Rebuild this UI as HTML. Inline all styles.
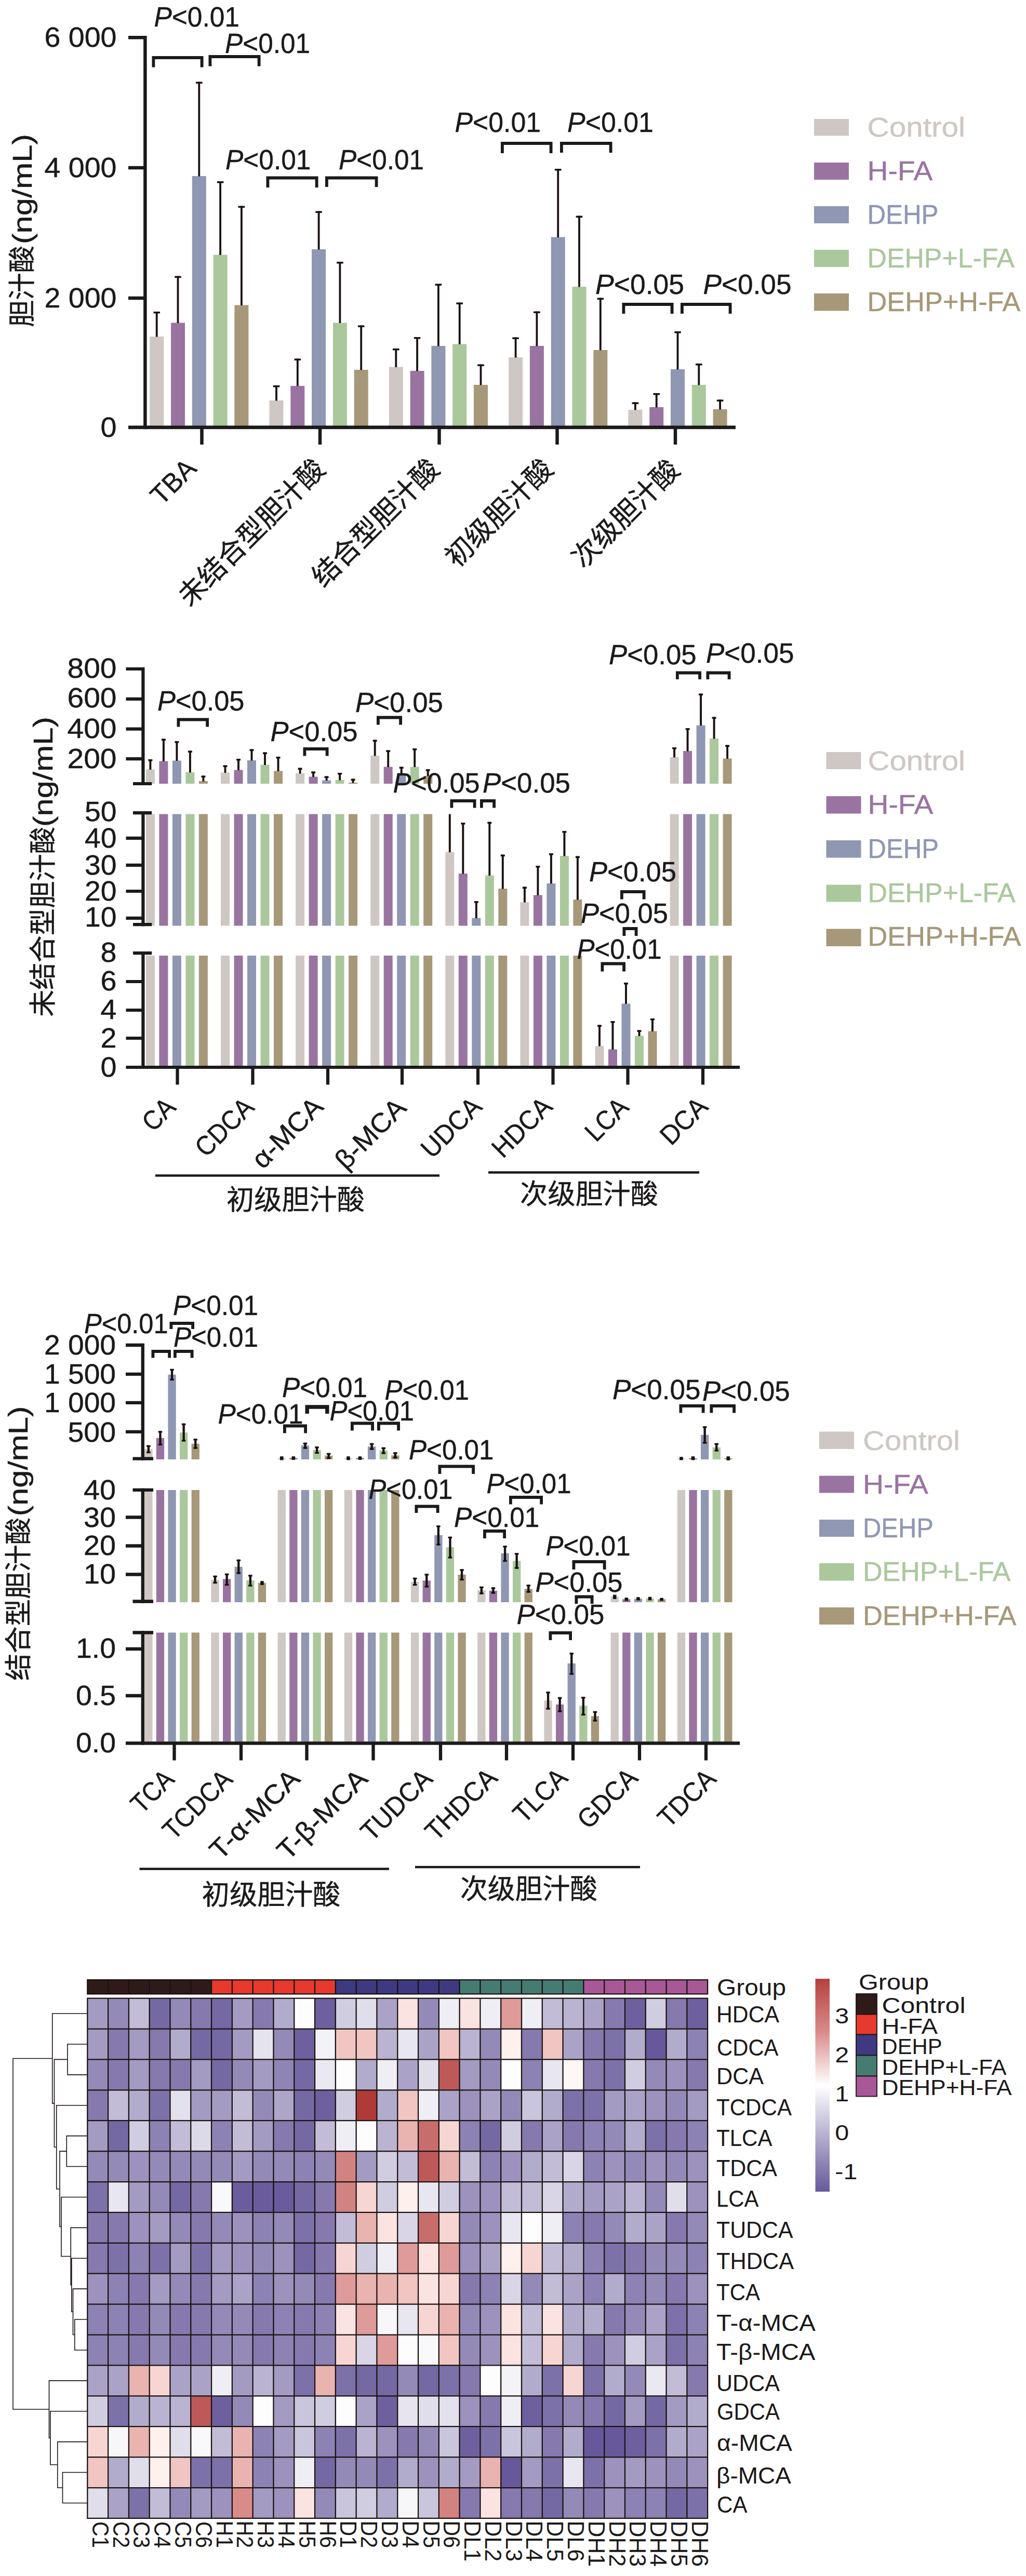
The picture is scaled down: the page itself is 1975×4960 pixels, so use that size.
<!DOCTYPE html>
<html lang="zh"><head><meta charset="utf-8"><title>胆汁酸</title>
<style>
html,body{margin:0;padding:0;background:#fff}
svg{display:block}
svg{fill:#1b1919}
text{font-family:'Liberation Sans', 'Noto Sans CJK SC', sans-serif;stroke-width:.45px}
text.h{stroke-width:0}
</style></head><body>
<svg width="1975" height="4960" viewBox="0 0 1975 4960">
<rect x="0" y="0" width="1975" height="4960" fill="#ffffff"/>
<rect x="288.2" y="648" width="27" height="172" fill="#cfc7c4"/>
<rect x="299.8" y="600" width="3.8" height="48.5" fill="#1a1210"/>
<rect x="295.4" y="600" width="12.6" height="3.5" fill="#1a1210"/>
<rect x="329" y="621.5" width="27" height="198.5" fill="#9a74a1"/>
<rect x="340.6" y="531.5" width="3.8" height="90.5" fill="#1a1210"/>
<rect x="336.2" y="531.5" width="12.6" height="3.5" fill="#1a1210"/>
<rect x="369.8" y="339" width="27" height="481" fill="#8f97b3"/>
<rect x="381.4" y="157.5" width="3.8" height="182" fill="#1a1210"/>
<rect x="377" y="157.5" width="12.6" height="3.5" fill="#1a1210"/>
<rect x="410.6" y="490.5" width="27" height="329.5" fill="#abc89d"/>
<rect x="422.2" y="349" width="3.8" height="142" fill="#1a1210"/>
<rect x="417.8" y="349" width="12.6" height="3.5" fill="#1a1210"/>
<rect x="451.4" y="587.5" width="27" height="232.5" fill="#a69879"/>
<rect x="463" y="396.5" width="3.8" height="191.5" fill="#1a1210"/>
<rect x="458.6" y="396.5" width="12.6" height="3.5" fill="#1a1210"/>
<rect x="518.5" y="771" width="27" height="49" fill="#cfc7c4"/>
<rect x="530.1" y="742" width="3.8" height="29.5" fill="#1a1210"/>
<rect x="525.7" y="742" width="12.6" height="3.5" fill="#1a1210"/>
<rect x="559.3" y="743" width="27" height="77" fill="#9a74a1"/>
<rect x="570.9" y="690.5" width="3.8" height="53" fill="#1a1210"/>
<rect x="566.5" y="690.5" width="12.6" height="3.5" fill="#1a1210"/>
<rect x="600.1" y="480" width="27" height="340" fill="#8f97b3"/>
<rect x="611.7" y="406.5" width="3.8" height="74" fill="#1a1210"/>
<rect x="607.3" y="406.5" width="12.6" height="3.5" fill="#1a1210"/>
<rect x="640.9" y="621.5" width="27" height="198.5" fill="#abc89d"/>
<rect x="652.5" y="504" width="3.8" height="118" fill="#1a1210"/>
<rect x="648.1" y="504" width="12.6" height="3.5" fill="#1a1210"/>
<rect x="681.7" y="712" width="27" height="108" fill="#a69879"/>
<rect x="693.3" y="626.5" width="3.8" height="86" fill="#1a1210"/>
<rect x="688.9" y="626.5" width="12.6" height="3.5" fill="#1a1210"/>
<rect x="748.8" y="706.5" width="27" height="113.5" fill="#cfc7c4"/>
<rect x="760.4" y="671" width="3.8" height="36" fill="#1a1210"/>
<rect x="756" y="671" width="12.6" height="3.5" fill="#1a1210"/>
<rect x="789.6" y="714" width="27" height="106" fill="#9a74a1"/>
<rect x="801.2" y="649" width="3.8" height="65.5" fill="#1a1210"/>
<rect x="796.8" y="649" width="12.6" height="3.5" fill="#1a1210"/>
<rect x="830.4" y="666" width="27" height="154" fill="#8f97b3"/>
<rect x="842" y="546.5" width="3.8" height="120" fill="#1a1210"/>
<rect x="837.6" y="546.5" width="12.6" height="3.5" fill="#1a1210"/>
<rect x="871.2" y="662.5" width="27" height="157.5" fill="#abc89d"/>
<rect x="882.8" y="582.5" width="3.8" height="80.5" fill="#1a1210"/>
<rect x="878.4" y="582.5" width="12.6" height="3.5" fill="#1a1210"/>
<rect x="912" y="741" width="27" height="79" fill="#a69879"/>
<rect x="923.6" y="701.5" width="3.8" height="40" fill="#1a1210"/>
<rect x="919.2" y="701.5" width="12.6" height="3.5" fill="#1a1210"/>
<rect x="979.1" y="688" width="27" height="132" fill="#cfc7c4"/>
<rect x="990.7" y="649.5" width="3.8" height="39" fill="#1a1210"/>
<rect x="986.3" y="649.5" width="12.6" height="3.5" fill="#1a1210"/>
<rect x="1019.9" y="666" width="27" height="154" fill="#9a74a1"/>
<rect x="1031.5" y="599.5" width="3.8" height="67" fill="#1a1210"/>
<rect x="1027.1" y="599.5" width="12.6" height="3.5" fill="#1a1210"/>
<rect x="1060.7" y="456.5" width="27" height="363.5" fill="#8f97b3"/>
<rect x="1072.3" y="325" width="3.8" height="132" fill="#1a1210"/>
<rect x="1067.9" y="325" width="12.6" height="3.5" fill="#1a1210"/>
<rect x="1101.5" y="552" width="27" height="268" fill="#abc89d"/>
<rect x="1113.1" y="415.5" width="3.8" height="137" fill="#1a1210"/>
<rect x="1108.7" y="415.5" width="12.6" height="3.5" fill="#1a1210"/>
<rect x="1142.3" y="674" width="27" height="146" fill="#a69879"/>
<rect x="1153.9" y="573.5" width="3.8" height="101" fill="#1a1210"/>
<rect x="1149.5" y="573.5" width="12.6" height="3.5" fill="#1a1210"/>
<rect x="1209.4" y="789" width="27" height="31" fill="#cfc7c4"/>
<rect x="1221" y="774.5" width="3.8" height="15" fill="#1a1210"/>
<rect x="1216.6" y="774.5" width="12.6" height="3.5" fill="#1a1210"/>
<rect x="1250.2" y="784" width="27" height="36" fill="#9a74a1"/>
<rect x="1261.8" y="757" width="3.8" height="27.5" fill="#1a1210"/>
<rect x="1257.4" y="757" width="12.6" height="3.5" fill="#1a1210"/>
<rect x="1291" y="711" width="27" height="109" fill="#8f97b3"/>
<rect x="1302.6" y="638" width="3.8" height="73.5" fill="#1a1210"/>
<rect x="1298.2" y="638" width="12.6" height="3.5" fill="#1a1210"/>
<rect x="1331.8" y="741" width="27" height="79" fill="#abc89d"/>
<rect x="1343.4" y="700" width="3.8" height="41.5" fill="#1a1210"/>
<rect x="1339" y="700" width="12.6" height="3.5" fill="#1a1210"/>
<rect x="1372.6" y="788" width="27" height="32" fill="#a69879"/>
<rect x="1384.2" y="769.5" width="3.8" height="19" fill="#1a1210"/>
<rect x="1379.8" y="769.5" width="12.6" height="3.5" fill="#1a1210"/>
<path d="M279.4 69L279.4 826.3" stroke="#1b1919" stroke-width="6.5" fill="none"/>
<path d="M247 72.2L279.4 72.2" stroke="#1b1919" stroke-width="6.5" fill="none"/>
<path d="M247 323.1L279.4 323.1" stroke="#1b1919" stroke-width="6.5" fill="none"/>
<path d="M247 574L279.4 574" stroke="#1b1919" stroke-width="6.5" fill="none"/>
<path d="M247 822.9L1416 822.9" stroke="#1b1919" stroke-width="6.8" fill="none"/>
<path d="M388.5 822.9L388.5 856" stroke="#1b1919" stroke-width="6.5" fill="none"/>
<path d="M616 822.9L616 856" stroke="#1b1919" stroke-width="6.5" fill="none"/>
<path d="M845.5 822.9L845.5 856" stroke="#1b1919" stroke-width="6.5" fill="none"/>
<path d="M1072.5 822.9L1072.5 856" stroke="#1b1919" stroke-width="6.5" fill="none"/>
<path d="M1300 822.9L1300 856" stroke="#1b1919" stroke-width="6.5" fill="none"/>
<text x="224.5" y="90.2" font-size="54.5" text-anchor="end" textLength="139" lengthAdjust="spacingAndGlyphs" stroke="#1b1919">6 000</text>
<text x="224.5" y="341.1" font-size="54.5" text-anchor="end" textLength="139" lengthAdjust="spacingAndGlyphs" stroke="#1b1919">4 000</text>
<text x="224.5" y="592" font-size="54.5" text-anchor="end" textLength="139" lengthAdjust="spacingAndGlyphs" stroke="#1b1919">2 000</text>
<text x="224.5" y="841.1" font-size="54.5" text-anchor="end" textLength="31" lengthAdjust="spacingAndGlyphs" stroke="#1b1919">0</text>
<text x="296.5" y="50.5" font-size="54.5" textLength="164.5" lengthAdjust="spacingAndGlyphs" stroke="#1b1919"><tspan font-style="italic">P</tspan>&lt;0.01</text>
<text x="433" y="102" font-size="54.5" textLength="164" lengthAdjust="spacingAndGlyphs" stroke="#1b1919"><tspan font-style="italic">P</tspan>&lt;0.01</text>
<text x="434" y="325.5" font-size="54.5" textLength="164.5" lengthAdjust="spacingAndGlyphs" stroke="#1b1919"><tspan font-style="italic">P</tspan>&lt;0.01</text>
<text x="652" y="325.5" font-size="54.5" textLength="164" lengthAdjust="spacingAndGlyphs" stroke="#1b1919"><tspan font-style="italic">P</tspan>&lt;0.01</text>
<text x="875.5" y="253.5" font-size="54.5" textLength="165.5" lengthAdjust="spacingAndGlyphs" stroke="#1b1919"><tspan font-style="italic">P</tspan>&lt;0.01</text>
<text x="1092" y="253.5" font-size="54.5" textLength="166" lengthAdjust="spacingAndGlyphs" stroke="#1b1919"><tspan font-style="italic">P</tspan>&lt;0.01</text>
<text x="1146" y="565.5" font-size="54.5" textLength="171" lengthAdjust="spacingAndGlyphs" stroke="#1b1919"><tspan font-style="italic">P</tspan>&lt;0.05</text>
<text x="1353.5" y="565.5" font-size="54.5" textLength="170" lengthAdjust="spacingAndGlyphs" stroke="#1b1919"><tspan font-style="italic">P</tspan>&lt;0.05</text>
<path d="M295.4 129.5V111H388.6V129.5" stroke="#1b1919" stroke-width="5.8" fill="none" stroke-linejoin="miter"/>
<path d="M404.4 127.5V109H498.6V127.5" stroke="#1b1919" stroke-width="5.8" fill="none" stroke-linejoin="miter"/>
<path d="M515.4 361V342.5H609.6V361" stroke="#1b1919" stroke-width="5.8" fill="none" stroke-linejoin="miter"/>
<path d="M628.9 360V342.5H724.6V360" stroke="#1b1919" stroke-width="5.8" fill="none" stroke-linejoin="miter"/>
<path d="M966.9 295V276H1060.6V295" stroke="#1b1919" stroke-width="5.8" fill="none" stroke-linejoin="miter"/>
<path d="M1080.9 294V276H1175.6V294" stroke="#1b1919" stroke-width="5.8" fill="none" stroke-linejoin="miter"/>
<path d="M1200.4 604V586H1293.6V604" stroke="#1b1919" stroke-width="5.8" fill="none" stroke-linejoin="miter"/>
<path d="M1312.9 604V586H1405.6V604" stroke="#1b1919" stroke-width="5.8" fill="none" stroke-linejoin="miter"/>
<text x="381" y="905" font-size="52" text-anchor="end" textLength="99" lengthAdjust="spacingAndGlyphs" transform="rotate(-45 381 905)" stroke="#1b1919">TBA</text>
<text x="629" y="906.5" font-size="53.3" text-anchor="end" textLength="373.1" lengthAdjust="spacingAndGlyphs" transform="rotate(-45 629 906.5)" stroke="#1b1919">未结合型胆汁酸</text>
<text x="849" y="906.5" font-size="53.3" text-anchor="end" textLength="319.8" lengthAdjust="spacingAndGlyphs" transform="rotate(-45 849 906.5)" stroke="#1b1919">结合型胆汁酸</text>
<text x="1068" y="906.5" font-size="53.3" text-anchor="end" textLength="266.5" lengthAdjust="spacingAndGlyphs" transform="rotate(-45 1068 906.5)" stroke="#1b1919">初级胆汁酸</text>
<text x="1311.5" y="908" font-size="53.3" text-anchor="end" textLength="266.5" lengthAdjust="spacingAndGlyphs" transform="rotate(-45 1311.5 908)" stroke="#1b1919">次级胆汁酸</text>
<text x="60.5" y="630" font-size="52.3" textLength="157" lengthAdjust="spacingAndGlyphs" transform="rotate(-90 60.5 630)" stroke="#1b1919">胆汁酸</text>
<text x="60.5" y="470" font-size="52" textLength="212" lengthAdjust="spacingAndGlyphs" transform="rotate(-90 60.5 470)" stroke="#1b1919">(ng/mL)</text>
<rect x="1567" y="229" width="67" height="32.5" fill="#cfc7c4"/>
<text x="1669.5" y="263.2" font-size="52.4" textLength="188.5" lengthAdjust="spacingAndGlyphs" fill="#cfc7c4" stroke="#cfc7c4">Control</text>
<rect x="1567" y="313" width="67" height="33" fill="#9a74a1"/>
<text x="1669.5" y="346.7" font-size="52.4" textLength="126" lengthAdjust="spacingAndGlyphs" fill="#9a74a1" stroke="#9a74a1">H-FA</text>
<rect x="1567" y="397" width="67" height="33" fill="#8f97b3"/>
<text x="1669.5" y="430.7" font-size="52.4" textLength="137" lengthAdjust="spacingAndGlyphs" fill="#8f97b3" stroke="#8f97b3">DEHP</text>
<rect x="1567" y="481" width="67" height="33" fill="#abc89d"/>
<text x="1669.5" y="514.7" font-size="52.4" textLength="283.5" lengthAdjust="spacingAndGlyphs" fill="#abc89d" stroke="#abc89d">DEHP+L-FA</text>
<rect x="1567" y="565" width="67" height="33.5" fill="#a69879"/>
<text x="1669.5" y="599.2" font-size="52.4" textLength="295" lengthAdjust="spacingAndGlyphs" fill="#a69879" stroke="#a69879">DEHP+H-FA</text>
<rect x="280.9" y="1481.5" width="17" height="27.5" fill="#cfc7c4"/>
<rect x="287.45" y="1462" width="3.9" height="20" fill="#1a1210"/>
<rect x="285.4" y="1462" width="8" height="3.5" fill="#1a1210"/>
<rect x="306.4" y="1465.5" width="17" height="43.5" fill="#9a74a1"/>
<rect x="312.95" y="1422.5" width="3.9" height="43.5" fill="#1a1210"/>
<rect x="310.9" y="1422.5" width="8" height="3.5" fill="#1a1210"/>
<rect x="331.9" y="1464.5" width="17" height="44.5" fill="#8f97b3"/>
<rect x="338.45" y="1427" width="3.9" height="38" fill="#1a1210"/>
<rect x="336.4" y="1427" width="8" height="3.5" fill="#1a1210"/>
<rect x="357.4" y="1487" width="17" height="22" fill="#abc89d"/>
<rect x="363.95" y="1445.5" width="3.9" height="42" fill="#1a1210"/>
<rect x="361.9" y="1445.5" width="8" height="3.5" fill="#1a1210"/>
<rect x="382.9" y="1504" width="17" height="5" fill="#a69879"/>
<rect x="389.45" y="1493.5" width="3.9" height="11" fill="#1a1210"/>
<rect x="387.4" y="1493.5" width="8" height="3.5" fill="#1a1210"/>
<rect x="425" y="1487.5" width="17" height="21.5" fill="#cfc7c4"/>
<rect x="431.55" y="1473.5" width="3.9" height="14.5" fill="#1a1210"/>
<rect x="429.5" y="1473.5" width="8" height="3.5" fill="#1a1210"/>
<rect x="450.5" y="1482.5" width="17" height="26.5" fill="#9a74a1"/>
<rect x="457.05" y="1461" width="3.9" height="22" fill="#1a1210"/>
<rect x="455" y="1461" width="8" height="3.5" fill="#1a1210"/>
<rect x="476" y="1464" width="17" height="45" fill="#8f97b3"/>
<rect x="482.55" y="1442.5" width="3.9" height="22" fill="#1a1210"/>
<rect x="480.5" y="1442.5" width="8" height="3.5" fill="#1a1210"/>
<rect x="501.5" y="1472.5" width="17" height="36.5" fill="#abc89d"/>
<rect x="508.05" y="1448.5" width="3.9" height="24.5" fill="#1a1210"/>
<rect x="506" y="1448.5" width="8" height="3.5" fill="#1a1210"/>
<rect x="527" y="1484.5" width="17" height="24.5" fill="#a69879"/>
<rect x="533.55" y="1457" width="3.9" height="28" fill="#1a1210"/>
<rect x="531.5" y="1457" width="8" height="3.5" fill="#1a1210"/>
<rect x="569.1" y="1489" width="17" height="20" fill="#cfc7c4"/>
<rect x="575.65" y="1478.5" width="3.9" height="11" fill="#1a1210"/>
<rect x="573.6" y="1478.5" width="8" height="3.5" fill="#1a1210"/>
<rect x="594.6" y="1495.5" width="17" height="13.5" fill="#9a74a1"/>
<rect x="601.15" y="1485.5" width="3.9" height="10.5" fill="#1a1210"/>
<rect x="599.1" y="1485.5" width="8" height="3.5" fill="#1a1210"/>
<rect x="620.1" y="1502.5" width="17" height="6.5" fill="#8f97b3"/>
<rect x="626.65" y="1494.5" width="3.9" height="8.5" fill="#1a1210"/>
<rect x="624.6" y="1494.5" width="8" height="3.5" fill="#1a1210"/>
<rect x="645.6" y="1502" width="17" height="7" fill="#abc89d"/>
<rect x="652.15" y="1488" width="3.9" height="14.5" fill="#1a1210"/>
<rect x="650.1" y="1488" width="8" height="3.5" fill="#1a1210"/>
<rect x="671.1" y="1507" width="17" height="2" fill="#a69879"/>
<rect x="677.65" y="1499.5" width="3.9" height="8" fill="#1a1210"/>
<rect x="675.6" y="1499.5" width="8" height="3.5" fill="#1a1210"/>
<rect x="713.2" y="1455" width="17" height="54" fill="#cfc7c4"/>
<rect x="719.75" y="1424.5" width="3.9" height="31" fill="#1a1210"/>
<rect x="717.7" y="1424.5" width="8" height="3.5" fill="#1a1210"/>
<rect x="738.7" y="1476.5" width="17" height="32.5" fill="#9a74a1"/>
<rect x="745.25" y="1444.5" width="3.9" height="32.5" fill="#1a1210"/>
<rect x="743.2" y="1444.5" width="8" height="3.5" fill="#1a1210"/>
<rect x="764.2" y="1491" width="17" height="18" fill="#8f97b3"/>
<rect x="770.75" y="1476.5" width="3.9" height="15" fill="#1a1210"/>
<rect x="768.7" y="1476.5" width="8" height="3.5" fill="#1a1210"/>
<rect x="789.7" y="1476.5" width="17" height="32.5" fill="#abc89d"/>
<rect x="796.25" y="1441" width="3.9" height="36" fill="#1a1210"/>
<rect x="794.2" y="1441" width="8" height="3.5" fill="#1a1210"/>
<rect x="815.2" y="1494" width="17" height="15" fill="#a69879"/>
<rect x="821.75" y="1481" width="3.9" height="13.5" fill="#1a1210"/>
<rect x="819.7" y="1481" width="8" height="3.5" fill="#1a1210"/>
<rect x="1289.6" y="1458" width="17" height="51" fill="#cfc7c4"/>
<rect x="1296.15" y="1439" width="3.9" height="19.5" fill="#1a1210"/>
<rect x="1294.1" y="1439" width="8" height="3.5" fill="#1a1210"/>
<rect x="1315.1" y="1446" width="17" height="63" fill="#9a74a1"/>
<rect x="1321.65" y="1402" width="3.9" height="44.5" fill="#1a1210"/>
<rect x="1319.6" y="1402" width="8" height="3.5" fill="#1a1210"/>
<rect x="1340.6" y="1396.5" width="17" height="112.5" fill="#8f97b3"/>
<rect x="1347.15" y="1335.5" width="3.9" height="61.5" fill="#1a1210"/>
<rect x="1345.1" y="1335.5" width="8" height="3.5" fill="#1a1210"/>
<rect x="1366.1" y="1422" width="17" height="87" fill="#abc89d"/>
<rect x="1372.65" y="1380.5" width="3.9" height="42" fill="#1a1210"/>
<rect x="1370.6" y="1380.5" width="8" height="3.5" fill="#1a1210"/>
<rect x="1391.6" y="1460.5" width="17" height="48.5" fill="#a69879"/>
<rect x="1398.15" y="1434.5" width="3.9" height="26.5" fill="#1a1210"/>
<rect x="1396.1" y="1434.5" width="8" height="3.5" fill="#1a1210"/>
<rect x="280.9" y="1567.5" width="17" height="215" fill="#cfc7c4"/>
<rect x="306.4" y="1567.5" width="17" height="215" fill="#9a74a1"/>
<rect x="331.9" y="1567.5" width="17" height="215" fill="#8f97b3"/>
<rect x="357.4" y="1567.5" width="17" height="215" fill="#abc89d"/>
<rect x="382.9" y="1567.5" width="17" height="215" fill="#a69879"/>
<rect x="425" y="1567.5" width="17" height="215" fill="#cfc7c4"/>
<rect x="450.5" y="1567.5" width="17" height="215" fill="#9a74a1"/>
<rect x="476" y="1567.5" width="17" height="215" fill="#8f97b3"/>
<rect x="501.5" y="1567.5" width="17" height="215" fill="#abc89d"/>
<rect x="527" y="1567.5" width="17" height="215" fill="#a69879"/>
<rect x="569.1" y="1567.5" width="17" height="215" fill="#cfc7c4"/>
<rect x="594.6" y="1567.5" width="17" height="215" fill="#9a74a1"/>
<rect x="620.1" y="1567.5" width="17" height="215" fill="#8f97b3"/>
<rect x="645.6" y="1567.5" width="17" height="215" fill="#abc89d"/>
<rect x="671.1" y="1567.5" width="17" height="215" fill="#a69879"/>
<rect x="713.2" y="1567.5" width="17" height="215" fill="#cfc7c4"/>
<rect x="738.7" y="1567.5" width="17" height="215" fill="#9a74a1"/>
<rect x="764.2" y="1567.5" width="17" height="215" fill="#8f97b3"/>
<rect x="789.7" y="1567.5" width="17" height="215" fill="#abc89d"/>
<rect x="815.2" y="1567.5" width="17" height="215" fill="#a69879"/>
<rect x="1289.6" y="1567.5" width="17" height="215" fill="#cfc7c4"/>
<rect x="1315.1" y="1567.5" width="17" height="215" fill="#9a74a1"/>
<rect x="1340.6" y="1567.5" width="17" height="215" fill="#8f97b3"/>
<rect x="1366.1" y="1567.5" width="17" height="215" fill="#abc89d"/>
<rect x="1391.6" y="1567.5" width="17" height="215" fill="#a69879"/>
<rect x="857.3" y="1640.5" width="17" height="142" fill="#cfc7c4"/>
<rect x="863.85" y="1567.5" width="3.9" height="73.5" fill="#1a1210"/>
<rect x="882.8" y="1682" width="17" height="100.5" fill="#9a74a1"/>
<rect x="889.35" y="1584" width="3.9" height="98.5" fill="#1a1210"/>
<rect x="887.3" y="1584" width="8" height="3.5" fill="#1a1210"/>
<rect x="908.3" y="1767.5" width="17" height="15" fill="#8f97b3"/>
<rect x="914.85" y="1735" width="3.9" height="33" fill="#1a1210"/>
<rect x="912.8" y="1735" width="8" height="3.5" fill="#1a1210"/>
<rect x="933.8" y="1685.5" width="17" height="97" fill="#abc89d"/>
<rect x="940.35" y="1582.5" width="3.9" height="103.5" fill="#1a1210"/>
<rect x="938.3" y="1582.5" width="8" height="3.5" fill="#1a1210"/>
<rect x="959.3" y="1711" width="17" height="71.5" fill="#a69879"/>
<rect x="965.85" y="1645.5" width="3.9" height="66" fill="#1a1210"/>
<rect x="963.8" y="1645.5" width="8" height="3.5" fill="#1a1210"/>
<rect x="1001.4" y="1737" width="17" height="45.5" fill="#cfc7c4"/>
<rect x="1007.95" y="1707.5" width="3.9" height="30" fill="#1a1210"/>
<rect x="1005.9" y="1707.5" width="8" height="3.5" fill="#1a1210"/>
<rect x="1026.9" y="1723.5" width="17" height="59" fill="#9a74a1"/>
<rect x="1033.45" y="1667" width="3.9" height="57" fill="#1a1210"/>
<rect x="1031.4" y="1667" width="8" height="3.5" fill="#1a1210"/>
<rect x="1052.4" y="1701" width="17" height="81.5" fill="#8f97b3"/>
<rect x="1058.95" y="1643" width="3.9" height="58.5" fill="#1a1210"/>
<rect x="1056.9" y="1643" width="8" height="3.5" fill="#1a1210"/>
<rect x="1077.9" y="1648" width="17" height="134.5" fill="#abc89d"/>
<rect x="1084.45" y="1600" width="3.9" height="48.5" fill="#1a1210"/>
<rect x="1082.4" y="1600" width="8" height="3.5" fill="#1a1210"/>
<rect x="1103.4" y="1732" width="17" height="50.5" fill="#a69879"/>
<rect x="1109.95" y="1648.5" width="3.9" height="84" fill="#1a1210"/>
<rect x="1107.9" y="1648.5" width="8" height="3.5" fill="#1a1210"/>
<rect x="280.9" y="1840" width="17" height="212" fill="#cfc7c4"/>
<rect x="306.4" y="1840" width="17" height="212" fill="#9a74a1"/>
<rect x="331.9" y="1840" width="17" height="212" fill="#8f97b3"/>
<rect x="357.4" y="1840" width="17" height="212" fill="#abc89d"/>
<rect x="382.9" y="1840" width="17" height="212" fill="#a69879"/>
<rect x="425" y="1840" width="17" height="212" fill="#cfc7c4"/>
<rect x="450.5" y="1840" width="17" height="212" fill="#9a74a1"/>
<rect x="476" y="1840" width="17" height="212" fill="#8f97b3"/>
<rect x="501.5" y="1840" width="17" height="212" fill="#abc89d"/>
<rect x="527" y="1840" width="17" height="212" fill="#a69879"/>
<rect x="569.1" y="1840" width="17" height="212" fill="#cfc7c4"/>
<rect x="594.6" y="1840" width="17" height="212" fill="#9a74a1"/>
<rect x="620.1" y="1840" width="17" height="212" fill="#8f97b3"/>
<rect x="645.6" y="1840" width="17" height="212" fill="#abc89d"/>
<rect x="671.1" y="1840" width="17" height="212" fill="#a69879"/>
<rect x="713.2" y="1840" width="17" height="212" fill="#cfc7c4"/>
<rect x="738.7" y="1840" width="17" height="212" fill="#9a74a1"/>
<rect x="764.2" y="1840" width="17" height="212" fill="#8f97b3"/>
<rect x="789.7" y="1840" width="17" height="212" fill="#abc89d"/>
<rect x="815.2" y="1840" width="17" height="212" fill="#a69879"/>
<rect x="857.3" y="1840" width="17" height="212" fill="#cfc7c4"/>
<rect x="882.8" y="1840" width="17" height="212" fill="#9a74a1"/>
<rect x="908.3" y="1840" width="17" height="212" fill="#8f97b3"/>
<rect x="933.8" y="1840" width="17" height="212" fill="#abc89d"/>
<rect x="959.3" y="1840" width="17" height="212" fill="#a69879"/>
<rect x="1001.4" y="1840" width="17" height="212" fill="#cfc7c4"/>
<rect x="1026.9" y="1840" width="17" height="212" fill="#9a74a1"/>
<rect x="1052.4" y="1840" width="17" height="212" fill="#8f97b3"/>
<rect x="1077.9" y="1840" width="17" height="212" fill="#abc89d"/>
<rect x="1103.4" y="1840" width="17" height="212" fill="#a69879"/>
<rect x="1289.6" y="1840" width="17" height="212" fill="#cfc7c4"/>
<rect x="1315.1" y="1840" width="17" height="212" fill="#9a74a1"/>
<rect x="1340.6" y="1840" width="17" height="212" fill="#8f97b3"/>
<rect x="1366.1" y="1840" width="17" height="212" fill="#abc89d"/>
<rect x="1391.6" y="1840" width="17" height="212" fill="#a69879"/>
<rect x="1145.5" y="2014" width="17" height="38" fill="#cfc7c4"/>
<rect x="1152.05" y="1973.5" width="3.9" height="41" fill="#1a1210"/>
<rect x="1150" y="1973.5" width="8" height="3.5" fill="#1a1210"/>
<rect x="1171" y="2020.5" width="17" height="31.5" fill="#9a74a1"/>
<rect x="1177.55" y="1966" width="3.9" height="55" fill="#1a1210"/>
<rect x="1175.5" y="1966" width="8" height="3.5" fill="#1a1210"/>
<rect x="1196.5" y="1932.5" width="17" height="119.5" fill="#8f97b3"/>
<rect x="1203.05" y="1892" width="3.9" height="41" fill="#1a1210"/>
<rect x="1201" y="1892" width="8" height="3.5" fill="#1a1210"/>
<rect x="1222" y="1994.5" width="17" height="57.5" fill="#abc89d"/>
<rect x="1228.55" y="1983.5" width="3.9" height="11.5" fill="#1a1210"/>
<rect x="1226.5" y="1983.5" width="8" height="3.5" fill="#1a1210"/>
<rect x="1247.5" y="1985.5" width="17" height="66.5" fill="#a69879"/>
<rect x="1254.05" y="1961" width="3.9" height="25" fill="#1a1210"/>
<rect x="1252" y="1961" width="8" height="3.5" fill="#1a1210"/>
<path d="M275.4 1284.9L275.4 1512.1" stroke="#1b1919" stroke-width="6.2" fill="none"/>
<path d="M242.5 1288L275.4 1288" stroke="#1b1919" stroke-width="6.2" fill="none"/>
<path d="M242.5 1345.8L275.4 1345.8" stroke="#1b1919" stroke-width="6.2" fill="none"/>
<path d="M242.5 1403.6L275.4 1403.6" stroke="#1b1919" stroke-width="6.2" fill="none"/>
<path d="M242.5 1461.2L275.4 1461.2" stroke="#1b1919" stroke-width="6.2" fill="none"/>
<path d="M256 1509L292.2 1509" stroke="#1b1919" stroke-width="6.2" fill="none"/>
<path d="M275.4 1562L275.4 1783.2" stroke="#1b1919" stroke-width="6.2" fill="none"/>
<path d="M256 1565.1L292.2 1565.1" stroke="#1b1919" stroke-width="6.2" fill="none"/>
<path d="M242.5 1613.8L275.4 1613.8" stroke="#1b1919" stroke-width="6.2" fill="none"/>
<path d="M242.5 1665.9L275.4 1665.9" stroke="#1b1919" stroke-width="6.2" fill="none"/>
<path d="M242.5 1716L275.4 1716" stroke="#1b1919" stroke-width="6.2" fill="none"/>
<path d="M242.5 1767.8L275.4 1767.8" stroke="#1b1919" stroke-width="6.2" fill="none"/>
<path d="M256 1780.1L292.2 1780.1" stroke="#1b1919" stroke-width="6.2" fill="none"/>
<path d="M275.4 1832.1L275.4 2058.1" stroke="#1b1919" stroke-width="6.2" fill="none"/>
<path d="M256 1835.2L292.2 1835.2" stroke="#1b1919" stroke-width="6.2" fill="none"/>
<path d="M242.5 1890L275.4 1890" stroke="#1b1919" stroke-width="6.2" fill="none"/>
<path d="M242.5 1945L275.4 1945" stroke="#1b1919" stroke-width="6.2" fill="none"/>
<path d="M242.5 1999L275.4 1999" stroke="#1b1919" stroke-width="6.2" fill="none"/>
<path d="M242.5 2055L1424 2055" stroke="#1b1919" stroke-width="6.2" fill="none"/>
<path d="M341.5 2055L341.5 2088.5" stroke="#1b1919" stroke-width="6.2" fill="none"/>
<path d="M486.5 2055L486.5 2088.5" stroke="#1b1919" stroke-width="6.2" fill="none"/>
<path d="M631 2055L631 2088.5" stroke="#1b1919" stroke-width="6.2" fill="none"/>
<path d="M774 2055L774 2088.5" stroke="#1b1919" stroke-width="6.2" fill="none"/>
<path d="M920 2055L920 2088.5" stroke="#1b1919" stroke-width="6.2" fill="none"/>
<path d="M1064.5 2055L1064.5 2088.5" stroke="#1b1919" stroke-width="6.2" fill="none"/>
<path d="M1208.5 2055L1208.5 2088.5" stroke="#1b1919" stroke-width="6.2" fill="none"/>
<path d="M1353 2055L1353 2088.5" stroke="#1b1919" stroke-width="6.2" fill="none"/>
<text x="224.5" y="1304.5" font-size="54" text-anchor="end" textLength="95" lengthAdjust="spacingAndGlyphs" stroke="#1b1919">800</text>
<text x="224.5" y="1362.1" font-size="54" text-anchor="end" textLength="95" lengthAdjust="spacingAndGlyphs" stroke="#1b1919">600</text>
<text x="224.5" y="1420.6" font-size="54" text-anchor="end" textLength="95" lengthAdjust="spacingAndGlyphs" stroke="#1b1919">400</text>
<text x="224.5" y="1479.1" font-size="54" text-anchor="end" textLength="95" lengthAdjust="spacingAndGlyphs" stroke="#1b1919">200</text>
<text x="224.5" y="1581.4" font-size="54" text-anchor="end" textLength="61.5" lengthAdjust="spacingAndGlyphs" stroke="#1b1919">50</text>
<text x="224.5" y="1631.5" font-size="54" text-anchor="end" textLength="61.5" lengthAdjust="spacingAndGlyphs" stroke="#1b1919">40</text>
<text x="224.5" y="1683.6" font-size="54" text-anchor="end" textLength="61.5" lengthAdjust="spacingAndGlyphs" stroke="#1b1919">30</text>
<text x="224.5" y="1733.9" font-size="54" text-anchor="end" textLength="61.5" lengthAdjust="spacingAndGlyphs" stroke="#1b1919">20</text>
<text x="224.5" y="1784.4" font-size="54" text-anchor="end" textLength="61.5" lengthAdjust="spacingAndGlyphs" stroke="#1b1919">10</text>
<text x="224.5" y="1851.8" font-size="54" text-anchor="end" textLength="31" lengthAdjust="spacingAndGlyphs" stroke="#1b1919">8</text>
<text x="224.5" y="1906.8" font-size="54" text-anchor="end" textLength="31" lengthAdjust="spacingAndGlyphs" stroke="#1b1919">6</text>
<text x="224.5" y="1962" font-size="54" text-anchor="end" textLength="31" lengthAdjust="spacingAndGlyphs" stroke="#1b1919">4</text>
<text x="224.5" y="2017" font-size="54" text-anchor="end" textLength="31" lengthAdjust="spacingAndGlyphs" stroke="#1b1919">2</text>
<text x="224.5" y="2073" font-size="54" text-anchor="end" textLength="31" lengthAdjust="spacingAndGlyphs" stroke="#1b1919">0</text>
<text x="303" y="1368" font-size="54.5" textLength="167.5" lengthAdjust="spacingAndGlyphs" stroke="#1b1919"><tspan font-style="italic">P</tspan>&lt;0.05</text>
<text x="520.5" y="1427" font-size="54.5" textLength="168" lengthAdjust="spacingAndGlyphs" stroke="#1b1919"><tspan font-style="italic">P</tspan>&lt;0.05</text>
<text x="684" y="1370.5" font-size="54.5" textLength="169" lengthAdjust="spacingAndGlyphs" stroke="#1b1919"><tspan font-style="italic">P</tspan>&lt;0.05</text>
<text x="756.5" y="1525.5" font-size="54.5" textLength="167" lengthAdjust="spacingAndGlyphs" stroke="#1b1919"><tspan font-style="italic">P</tspan>&lt;0.05</text>
<text x="929" y="1525.5" font-size="54.5" textLength="169" lengthAdjust="spacingAndGlyphs" stroke="#1b1919"><tspan font-style="italic">P</tspan>&lt;0.05</text>
<text x="1172" y="1278.5" font-size="54.5" textLength="168.5" lengthAdjust="spacingAndGlyphs" stroke="#1b1919"><tspan font-style="italic">P</tspan>&lt;0.05</text>
<text x="1359" y="1275.5" font-size="54.5" textLength="169.5" lengthAdjust="spacingAndGlyphs" stroke="#1b1919"><tspan font-style="italic">P</tspan>&lt;0.05</text>
<text x="1134" y="1696.5" font-size="54.5" textLength="168" lengthAdjust="spacingAndGlyphs" stroke="#1b1919"><tspan font-style="italic">P</tspan>&lt;0.05</text>
<text x="1118" y="1777" font-size="54.5" textLength="168" lengthAdjust="spacingAndGlyphs" stroke="#1b1919"><tspan font-style="italic">P</tspan>&lt;0.05</text>
<text x="1110.5" y="1845.5" font-size="54.5" textLength="163" lengthAdjust="spacingAndGlyphs" stroke="#1b1919"><tspan font-style="italic">P</tspan>&lt;0.01</text>
<path d="M343.4 1399.5V1385.5H399.1V1399.5" stroke="#1b1919" stroke-width="5.8" fill="none" stroke-linejoin="miter"/>
<path d="M586.4 1455.5V1442H629.6V1455.5" stroke="#1b1919" stroke-width="5.8" fill="none" stroke-linejoin="miter"/>
<path d="M727.9 1395.5V1381.5H771.1V1395.5" stroke="#1b1919" stroke-width="5.8" fill="none" stroke-linejoin="miter"/>
<path d="M869.4 1555.5V1542H913.6V1555.5" stroke="#1b1919" stroke-width="5.8" fill="none" stroke-linejoin="miter"/>
<path d="M926.9 1555.5V1542H951.1V1555.5" stroke="#1b1919" stroke-width="5.8" fill="none" stroke-linejoin="miter"/>
<path d="M1303.9 1308V1295.5H1347.1V1308" stroke="#1b1919" stroke-width="5.8" fill="none" stroke-linejoin="miter"/>
<path d="M1362.4 1308V1295.5H1403.6V1308" stroke="#1b1919" stroke-width="5.8" fill="none" stroke-linejoin="miter"/>
<path d="M1196.9 1731.5V1717H1239.6V1731.5" stroke="#1b1919" stroke-width="5.8" fill="none" stroke-linejoin="miter"/>
<path d="M1201.4 1802V1788H1224.6V1802" stroke="#1b1919" stroke-width="5.8" fill="none" stroke-linejoin="miter"/>
<path d="M1159.4 1870.5V1855.5H1201.1V1870.5" stroke="#1b1919" stroke-width="5.8" fill="none" stroke-linejoin="miter"/>
<text x="341" y="2135" font-size="52" text-anchor="end" textLength="65.5" lengthAdjust="spacingAndGlyphs" transform="rotate(-45 341 2135)" stroke="#1b1919">CA</text>
<text x="492" y="2135" font-size="52" text-anchor="end" textLength="134.8" lengthAdjust="spacingAndGlyphs" transform="rotate(-45 492 2135)" stroke="#1b1919">CDCA</text>
<text x="625" y="2134" font-size="52" text-anchor="end" textLength="168.4" lengthAdjust="spacingAndGlyphs" transform="rotate(-45 625 2134)" stroke="#1b1919">α-MCA</text>
<text x="784.7" y="2136" font-size="52" text-anchor="end" textLength="168" lengthAdjust="spacingAndGlyphs" transform="rotate(-45 784.7 2136)" stroke="#1b1919">β-MCA</text>
<text x="930.4" y="2134" font-size="52" text-anchor="end" textLength="139.8" lengthAdjust="spacingAndGlyphs" transform="rotate(-45 930.4 2134)" stroke="#1b1919">UDCA</text>
<text x="1066" y="2134" font-size="52" text-anchor="end" textLength="138.6" lengthAdjust="spacingAndGlyphs" transform="rotate(-45 1066 2134)" stroke="#1b1919">HDCA</text>
<text x="1213" y="2135" font-size="52" text-anchor="end" textLength="93.1" lengthAdjust="spacingAndGlyphs" transform="rotate(-45 1213 2135)" stroke="#1b1919">LCA</text>
<text x="1365.4" y="2134" font-size="52" text-anchor="end" textLength="104" lengthAdjust="spacingAndGlyphs" transform="rotate(-45 1365.4 2134)" stroke="#1b1919">DCA</text>
<path d="M299 2263.5L846 2263.5" stroke="#1b1919" stroke-width="4.5" fill="none"/>
<path d="M940 2257.5L1346 2257.5" stroke="#1b1919" stroke-width="4.5" fill="none"/>
<text x="436" y="2328.5" font-size="53" textLength="266" lengthAdjust="spacingAndGlyphs" stroke="#1b1919">初级胆汁酸</text>
<text x="1001" y="2318" font-size="53" textLength="266" lengthAdjust="spacingAndGlyphs" stroke="#1b1919">次级胆汁酸</text>
<text x="100.5" y="1958" font-size="52.3" textLength="366" lengthAdjust="spacingAndGlyphs" transform="rotate(-90 100.5 1958)" stroke="#1b1919">未结合型胆汁酸</text>
<text x="100.5" y="1592" font-size="52" textLength="212" lengthAdjust="spacingAndGlyphs" transform="rotate(-90 100.5 1592)" stroke="#1b1919">(ng/mL)</text>
<rect x="1590.5" y="1448" width="67" height="33" fill="#cfc7c4"/>
<text x="1670.5" y="1483.2" font-size="52.4" textLength="187.5" lengthAdjust="spacingAndGlyphs" fill="#cfc7c4" stroke="#cfc7c4">Control</text>
<rect x="1590.5" y="1533" width="67" height="33.5" fill="#9a74a1"/>
<text x="1670.5" y="1567.2" font-size="52.4" textLength="126" lengthAdjust="spacingAndGlyphs" fill="#9a74a1" stroke="#9a74a1">H-FA</text>
<rect x="1590.5" y="1618" width="67" height="33.5" fill="#8f97b3"/>
<text x="1670.5" y="1652.2" font-size="52.4" textLength="136.5" lengthAdjust="spacingAndGlyphs" fill="#8f97b3" stroke="#8f97b3">DEHP</text>
<rect x="1590.5" y="1703.5" width="67" height="33" fill="#abc89d"/>
<text x="1670.5" y="1736.7" font-size="52.4" textLength="284" lengthAdjust="spacingAndGlyphs" fill="#abc89d" stroke="#abc89d">DEHP+L-FA</text>
<rect x="1590.5" y="1788.5" width="67" height="33.5" fill="#a69879"/>
<text x="1670.5" y="1821.2" font-size="52.4" textLength="295" lengthAdjust="spacingAndGlyphs" fill="#a69879" stroke="#a69879">DEHP+H-FA</text>
<rect x="278.2" y="2790.3" width="15.3" height="19.7" fill="#cfc7c4"/>
<rect x="283.7" y="2782.8" width="4.3" height="15.3" fill="#1a1210"/>
<rect x="282.05" y="2782.8" width="7.6" height="3.2" fill="#1a1210"/>
<rect x="282.05" y="2794.9" width="7.6" height="3.2" fill="#1a1210"/>
<rect x="300.8" y="2768.8" width="15.3" height="41.2" fill="#9a74a1"/>
<rect x="306.3" y="2755.3" width="4.3" height="27.8" fill="#1a1210"/>
<rect x="304.65" y="2755.3" width="7.6" height="3.2" fill="#1a1210"/>
<rect x="304.65" y="2779.9" width="7.6" height="3.2" fill="#1a1210"/>
<rect x="323.4" y="2646.8" width="15.3" height="163.2" fill="#8f97b3"/>
<rect x="328.9" y="2635.8" width="4.3" height="22.3" fill="#1a1210"/>
<rect x="327.25" y="2635.8" width="7.6" height="3.2" fill="#1a1210"/>
<rect x="327.25" y="2654.9" width="7.6" height="3.2" fill="#1a1210"/>
<rect x="346" y="2758.3" width="15.3" height="51.7" fill="#abc89d"/>
<rect x="351.5" y="2740.8" width="4.3" height="34.8" fill="#1a1210"/>
<rect x="349.85" y="2740.8" width="7.6" height="3.2" fill="#1a1210"/>
<rect x="349.85" y="2772.4" width="7.6" height="3.2" fill="#1a1210"/>
<rect x="368.6" y="2779.8" width="15.3" height="30.2" fill="#a69879"/>
<rect x="374.1" y="2770.3" width="4.3" height="19.3" fill="#1a1210"/>
<rect x="372.45" y="2770.3" width="7.6" height="3.2" fill="#1a1210"/>
<rect x="372.45" y="2786.4" width="7.6" height="3.2" fill="#1a1210"/>
<rect x="534.6" y="2807.8" width="15.3" height="2.2" fill="#cfc7c4"/>
<rect x="538.95" y="2804.2" width="6.6" height="7.2" fill="#1a1210"/>
<rect x="557.2" y="2807.3" width="15.3" height="2.7" fill="#9a74a1"/>
<rect x="561.55" y="2804.2" width="6.6" height="6.7" fill="#1a1210"/>
<rect x="579.8" y="2783.3" width="15.3" height="26.7" fill="#8f97b3"/>
<rect x="585.3" y="2777.8" width="4.3" height="11.8" fill="#1a1210"/>
<rect x="583.65" y="2777.8" width="7.6" height="3.2" fill="#1a1210"/>
<rect x="583.65" y="2786.4" width="7.6" height="3.2" fill="#1a1210"/>
<rect x="602.4" y="2791.8" width="15.3" height="18.2" fill="#abc89d"/>
<rect x="607.9" y="2785.3" width="4.3" height="13.8" fill="#1a1210"/>
<rect x="606.25" y="2785.3" width="7.6" height="3.2" fill="#1a1210"/>
<rect x="606.25" y="2795.9" width="7.6" height="3.2" fill="#1a1210"/>
<rect x="625" y="2802.8" width="15.3" height="7.2" fill="#a69879"/>
<rect x="630.5" y="2797.8" width="4.3" height="11.3" fill="#1a1210"/>
<rect x="628.85" y="2797.8" width="7.6" height="3.2" fill="#1a1210"/>
<rect x="628.85" y="2805.9" width="7.6" height="3.2" fill="#1a1210"/>
<rect x="662.8" y="2807.8" width="15.3" height="2.2" fill="#cfc7c4"/>
<rect x="667.15" y="2804.2" width="6.6" height="7.2" fill="#1a1210"/>
<rect x="685.4" y="2807.3" width="15.3" height="2.7" fill="#9a74a1"/>
<rect x="689.75" y="2804.2" width="6.6" height="6.7" fill="#1a1210"/>
<rect x="708" y="2785.3" width="15.3" height="24.7" fill="#8f97b3"/>
<rect x="713.5" y="2778.8" width="4.3" height="12.8" fill="#1a1210"/>
<rect x="711.85" y="2778.8" width="7.6" height="3.2" fill="#1a1210"/>
<rect x="711.85" y="2788.4" width="7.6" height="3.2" fill="#1a1210"/>
<rect x="730.6" y="2792.8" width="15.3" height="17.2" fill="#abc89d"/>
<rect x="736.1" y="2786.8" width="4.3" height="12.8" fill="#1a1210"/>
<rect x="734.45" y="2786.8" width="7.6" height="3.2" fill="#1a1210"/>
<rect x="734.45" y="2796.4" width="7.6" height="3.2" fill="#1a1210"/>
<rect x="753.2" y="2802.3" width="15.3" height="7.7" fill="#a69879"/>
<rect x="758.7" y="2796.3" width="4.3" height="11.8" fill="#1a1210"/>
<rect x="757.05" y="2796.3" width="7.6" height="3.2" fill="#1a1210"/>
<rect x="757.05" y="2804.9" width="7.6" height="3.2" fill="#1a1210"/>
<rect x="1303.8" y="2808.3" width="15.3" height="1.7" fill="#cfc7c4"/>
<rect x="1308.15" y="2805.2" width="6.6" height="6.2" fill="#1a1210"/>
<rect x="1326.4" y="2807.8" width="15.3" height="2.2" fill="#9a74a1"/>
<rect x="1330.75" y="2804.2" width="6.6" height="7.2" fill="#1a1210"/>
<rect x="1349" y="2762.8" width="15.3" height="47.2" fill="#8f97b3"/>
<rect x="1354.5" y="2746.3" width="4.3" height="33.3" fill="#1a1210"/>
<rect x="1352.85" y="2746.3" width="7.6" height="3.2" fill="#1a1210"/>
<rect x="1352.85" y="2776.4" width="7.6" height="3.2" fill="#1a1210"/>
<rect x="1371.6" y="2786.8" width="15.3" height="23.2" fill="#abc89d"/>
<rect x="1377.1" y="2778.8" width="4.3" height="15.8" fill="#1a1210"/>
<rect x="1375.45" y="2778.8" width="7.6" height="3.2" fill="#1a1210"/>
<rect x="1375.45" y="2791.4" width="7.6" height="3.2" fill="#1a1210"/>
<rect x="1394.2" y="2807.8" width="15.3" height="2.2" fill="#a69879"/>
<rect x="1398.55" y="2804.2" width="6.6" height="7.7" fill="#1a1210"/>
<rect x="278.2" y="2869" width="15.3" height="216" fill="#cfc7c4"/>
<rect x="300.8" y="2869" width="15.3" height="216" fill="#9a74a1"/>
<rect x="323.4" y="2869" width="15.3" height="216" fill="#8f97b3"/>
<rect x="346" y="2869" width="15.3" height="216" fill="#abc89d"/>
<rect x="368.6" y="2869" width="15.3" height="216" fill="#a69879"/>
<rect x="534.6" y="2869" width="15.3" height="216" fill="#cfc7c4"/>
<rect x="557.2" y="2869" width="15.3" height="216" fill="#9a74a1"/>
<rect x="579.8" y="2869" width="15.3" height="216" fill="#8f97b3"/>
<rect x="602.4" y="2869" width="15.3" height="216" fill="#abc89d"/>
<rect x="625" y="2869" width="15.3" height="216" fill="#a69879"/>
<rect x="662.8" y="2869" width="15.3" height="216" fill="#cfc7c4"/>
<rect x="685.4" y="2869" width="15.3" height="216" fill="#9a74a1"/>
<rect x="708" y="2869" width="15.3" height="216" fill="#8f97b3"/>
<rect x="730.6" y="2869" width="15.3" height="216" fill="#abc89d"/>
<rect x="753.2" y="2869" width="15.3" height="216" fill="#a69879"/>
<rect x="1303.8" y="2869" width="15.3" height="216" fill="#cfc7c4"/>
<rect x="1326.4" y="2869" width="15.3" height="216" fill="#9a74a1"/>
<rect x="1349" y="2869" width="15.3" height="216" fill="#8f97b3"/>
<rect x="1371.6" y="2869" width="15.3" height="216" fill="#abc89d"/>
<rect x="1394.2" y="2869" width="15.3" height="216" fill="#a69879"/>
<rect x="406.4" y="3041.8" width="15.3" height="43.2" fill="#cfc7c4"/>
<rect x="411.9" y="3033.8" width="4.3" height="15.3" fill="#1a1210"/>
<rect x="410.25" y="3033.8" width="7.6" height="3.2" fill="#1a1210"/>
<rect x="410.25" y="3045.9" width="7.6" height="3.2" fill="#1a1210"/>
<rect x="429" y="3040.3" width="15.3" height="44.7" fill="#9a74a1"/>
<rect x="434.5" y="3029.8" width="4.3" height="23.3" fill="#1a1210"/>
<rect x="432.85" y="3029.8" width="7.6" height="3.2" fill="#1a1210"/>
<rect x="432.85" y="3049.9" width="7.6" height="3.2" fill="#1a1210"/>
<rect x="451.6" y="3016.8" width="15.3" height="68.2" fill="#8f97b3"/>
<rect x="457.1" y="3002.8" width="4.3" height="27.8" fill="#1a1210"/>
<rect x="455.45" y="3002.8" width="7.6" height="3.2" fill="#1a1210"/>
<rect x="455.45" y="3027.4" width="7.6" height="3.2" fill="#1a1210"/>
<rect x="474.2" y="3042.8" width="15.3" height="42.2" fill="#abc89d"/>
<rect x="479.7" y="3032.3" width="4.3" height="22.3" fill="#1a1210"/>
<rect x="478.05" y="3032.3" width="7.6" height="3.2" fill="#1a1210"/>
<rect x="478.05" y="3051.4" width="7.6" height="3.2" fill="#1a1210"/>
<rect x="496.8" y="3047.8" width="15.3" height="37.2" fill="#a69879"/>
<rect x="501.15" y="3044.2" width="6.6" height="7.7" fill="#1a1210"/>
<rect x="791" y="3045.8" width="15.3" height="39.2" fill="#cfc7c4"/>
<rect x="796.5" y="3037.8" width="4.3" height="15.3" fill="#1a1210"/>
<rect x="794.85" y="3037.8" width="7.6" height="3.2" fill="#1a1210"/>
<rect x="794.85" y="3049.9" width="7.6" height="3.2" fill="#1a1210"/>
<rect x="813.6" y="3043.3" width="15.3" height="41.7" fill="#9a74a1"/>
<rect x="819.1" y="3030.3" width="4.3" height="26.3" fill="#1a1210"/>
<rect x="817.45" y="3030.3" width="7.6" height="3.2" fill="#1a1210"/>
<rect x="817.45" y="3053.4" width="7.6" height="3.2" fill="#1a1210"/>
<rect x="836.2" y="2955.8" width="15.3" height="129.2" fill="#8f97b3"/>
<rect x="841.7" y="2937.3" width="4.3" height="38.3" fill="#1a1210"/>
<rect x="840.05" y="2937.3" width="7.6" height="3.2" fill="#1a1210"/>
<rect x="840.05" y="2972.4" width="7.6" height="3.2" fill="#1a1210"/>
<rect x="858.8" y="2979.3" width="15.3" height="105.7" fill="#abc89d"/>
<rect x="864.3" y="2958.8" width="4.3" height="41.8" fill="#1a1210"/>
<rect x="862.65" y="2958.8" width="7.6" height="3.2" fill="#1a1210"/>
<rect x="862.65" y="2997.4" width="7.6" height="3.2" fill="#1a1210"/>
<rect x="881.4" y="3031.8" width="15.3" height="53.2" fill="#a69879"/>
<rect x="886.9" y="3021.3" width="4.3" height="21.8" fill="#1a1210"/>
<rect x="885.25" y="3021.3" width="7.6" height="3.2" fill="#1a1210"/>
<rect x="885.25" y="3039.9" width="7.6" height="3.2" fill="#1a1210"/>
<rect x="919.2" y="3061.8" width="15.3" height="23.2" fill="#cfc7c4"/>
<rect x="924.7" y="3054.8" width="4.3" height="14.8" fill="#1a1210"/>
<rect x="923.05" y="3054.8" width="7.6" height="3.2" fill="#1a1210"/>
<rect x="923.05" y="3066.4" width="7.6" height="3.2" fill="#1a1210"/>
<rect x="941.8" y="3062.8" width="15.3" height="22.2" fill="#9a74a1"/>
<rect x="947.3" y="3056.3" width="4.3" height="12.3" fill="#1a1210"/>
<rect x="945.65" y="3056.3" width="7.6" height="3.2" fill="#1a1210"/>
<rect x="945.65" y="3065.4" width="7.6" height="3.2" fill="#1a1210"/>
<rect x="964.4" y="2990.8" width="15.3" height="94.2" fill="#8f97b3"/>
<rect x="969.9" y="2976.3" width="4.3" height="30.8" fill="#1a1210"/>
<rect x="968.25" y="2976.3" width="7.6" height="3.2" fill="#1a1210"/>
<rect x="968.25" y="3003.9" width="7.6" height="3.2" fill="#1a1210"/>
<rect x="987" y="3005.3" width="15.3" height="79.7" fill="#abc89d"/>
<rect x="992.5" y="2990.3" width="4.3" height="30.3" fill="#1a1210"/>
<rect x="990.85" y="2990.3" width="7.6" height="3.2" fill="#1a1210"/>
<rect x="990.85" y="3017.4" width="7.6" height="3.2" fill="#1a1210"/>
<rect x="1009.6" y="3059.3" width="15.3" height="25.7" fill="#a69879"/>
<rect x="1015.1" y="3051.3" width="4.3" height="15.3" fill="#1a1210"/>
<rect x="1013.45" y="3051.3" width="7.6" height="3.2" fill="#1a1210"/>
<rect x="1013.45" y="3063.4" width="7.6" height="3.2" fill="#1a1210"/>
<rect x="1175.6" y="3074.3" width="15.3" height="10.7" fill="#cfc7c4"/>
<rect x="1179.95" y="3070.7" width="6.6" height="8.2" fill="#1a1210"/>
<rect x="1198.2" y="3079.3" width="15.3" height="5.7" fill="#9a74a1"/>
<rect x="1202.55" y="3076.2" width="6.6" height="6.2" fill="#1a1210"/>
<rect x="1220.8" y="3078.3" width="15.3" height="6.7" fill="#8f97b3"/>
<rect x="1225.15" y="3075.2" width="6.6" height="6.2" fill="#1a1210"/>
<rect x="1243.4" y="3077.8" width="15.3" height="7.2" fill="#abc89d"/>
<rect x="1247.75" y="3074.7" width="6.6" height="6.7" fill="#1a1210"/>
<rect x="1266" y="3079.3" width="15.3" height="5.7" fill="#a69879"/>
<rect x="1270.35" y="3076.7" width="6.6" height="5.7" fill="#1a1210"/>
<rect x="278.2" y="3143.5" width="15.3" height="210" fill="#cfc7c4"/>
<rect x="300.8" y="3143.5" width="15.3" height="210" fill="#9a74a1"/>
<rect x="323.4" y="3143.5" width="15.3" height="210" fill="#8f97b3"/>
<rect x="346" y="3143.5" width="15.3" height="210" fill="#abc89d"/>
<rect x="368.6" y="3143.5" width="15.3" height="210" fill="#a69879"/>
<rect x="406.4" y="3143.5" width="15.3" height="210" fill="#cfc7c4"/>
<rect x="429" y="3143.5" width="15.3" height="210" fill="#9a74a1"/>
<rect x="451.6" y="3143.5" width="15.3" height="210" fill="#8f97b3"/>
<rect x="474.2" y="3143.5" width="15.3" height="210" fill="#abc89d"/>
<rect x="496.8" y="3143.5" width="15.3" height="210" fill="#a69879"/>
<rect x="534.6" y="3143.5" width="15.3" height="210" fill="#cfc7c4"/>
<rect x="557.2" y="3143.5" width="15.3" height="210" fill="#9a74a1"/>
<rect x="579.8" y="3143.5" width="15.3" height="210" fill="#8f97b3"/>
<rect x="602.4" y="3143.5" width="15.3" height="210" fill="#abc89d"/>
<rect x="625" y="3143.5" width="15.3" height="210" fill="#a69879"/>
<rect x="662.8" y="3143.5" width="15.3" height="210" fill="#cfc7c4"/>
<rect x="685.4" y="3143.5" width="15.3" height="210" fill="#9a74a1"/>
<rect x="708" y="3143.5" width="15.3" height="210" fill="#8f97b3"/>
<rect x="730.6" y="3143.5" width="15.3" height="210" fill="#abc89d"/>
<rect x="753.2" y="3143.5" width="15.3" height="210" fill="#a69879"/>
<rect x="791" y="3143.5" width="15.3" height="210" fill="#cfc7c4"/>
<rect x="813.6" y="3143.5" width="15.3" height="210" fill="#9a74a1"/>
<rect x="836.2" y="3143.5" width="15.3" height="210" fill="#8f97b3"/>
<rect x="858.8" y="3143.5" width="15.3" height="210" fill="#abc89d"/>
<rect x="881.4" y="3143.5" width="15.3" height="210" fill="#a69879"/>
<rect x="919.2" y="3143.5" width="15.3" height="210" fill="#cfc7c4"/>
<rect x="941.8" y="3143.5" width="15.3" height="210" fill="#9a74a1"/>
<rect x="964.4" y="3143.5" width="15.3" height="210" fill="#8f97b3"/>
<rect x="987" y="3143.5" width="15.3" height="210" fill="#abc89d"/>
<rect x="1009.6" y="3143.5" width="15.3" height="210" fill="#a69879"/>
<rect x="1175.6" y="3143.5" width="15.3" height="210" fill="#cfc7c4"/>
<rect x="1198.2" y="3143.5" width="15.3" height="210" fill="#9a74a1"/>
<rect x="1220.8" y="3143.5" width="15.3" height="210" fill="#8f97b3"/>
<rect x="1243.4" y="3143.5" width="15.3" height="210" fill="#abc89d"/>
<rect x="1266" y="3143.5" width="15.3" height="210" fill="#a69879"/>
<rect x="1303.8" y="3143.5" width="15.3" height="210" fill="#cfc7c4"/>
<rect x="1326.4" y="3143.5" width="15.3" height="210" fill="#9a74a1"/>
<rect x="1349" y="3143.5" width="15.3" height="210" fill="#8f97b3"/>
<rect x="1371.6" y="3143.5" width="15.3" height="210" fill="#abc89d"/>
<rect x="1394.2" y="3143.5" width="15.3" height="210" fill="#a69879"/>
<rect x="1047.4" y="3274.3" width="15.3" height="79.2" fill="#cfc7c4"/>
<rect x="1052.9" y="3257.3" width="4.3" height="34.3" fill="#1a1210"/>
<rect x="1051.25" y="3257.3" width="7.6" height="3.2" fill="#1a1210"/>
<rect x="1051.25" y="3288.4" width="7.6" height="3.2" fill="#1a1210"/>
<rect x="1070" y="3281.8" width="15.3" height="71.7" fill="#9a74a1"/>
<rect x="1075.5" y="3267.8" width="4.3" height="28.8" fill="#1a1210"/>
<rect x="1073.85" y="3267.8" width="7.6" height="3.2" fill="#1a1210"/>
<rect x="1073.85" y="3293.4" width="7.6" height="3.2" fill="#1a1210"/>
<rect x="1092.6" y="3202.8" width="15.3" height="150.7" fill="#8f97b3"/>
<rect x="1098.1" y="3182.3" width="4.3" height="42.3" fill="#1a1210"/>
<rect x="1096.45" y="3182.3" width="7.6" height="3.2" fill="#1a1210"/>
<rect x="1096.45" y="3221.4" width="7.6" height="3.2" fill="#1a1210"/>
<rect x="1115.2" y="3284.3" width="15.3" height="69.2" fill="#abc89d"/>
<rect x="1120.7" y="3267.3" width="4.3" height="35.8" fill="#1a1210"/>
<rect x="1119.05" y="3267.3" width="7.6" height="3.2" fill="#1a1210"/>
<rect x="1119.05" y="3299.9" width="7.6" height="3.2" fill="#1a1210"/>
<rect x="1137.8" y="3304.3" width="15.3" height="49.2" fill="#a69879"/>
<rect x="1143.3" y="3294.8" width="4.3" height="19.8" fill="#1a1210"/>
<rect x="1141.65" y="3294.8" width="7.6" height="3.2" fill="#1a1210"/>
<rect x="1141.65" y="3311.4" width="7.6" height="3.2" fill="#1a1210"/>
<path d="M274.8 2586.85L274.8 2811.85" stroke="#1b1919" stroke-width="6.3" fill="none"/>
<path d="M242 2590L274.8 2590" stroke="#1b1919" stroke-width="6.3" fill="none"/>
<path d="M242 2645.8L274.8 2645.8" stroke="#1b1919" stroke-width="6.3" fill="none"/>
<path d="M242 2700.9L274.8 2700.9" stroke="#1b1919" stroke-width="6.3" fill="none"/>
<path d="M242 2756.8L274.8 2756.8" stroke="#1b1919" stroke-width="6.3" fill="none"/>
<path d="M255.5 2808.7L295 2808.7" stroke="#1b1919" stroke-width="6.3" fill="none"/>
<path d="M274.8 2865.65L274.8 3086.65" stroke="#1b1919" stroke-width="6.3" fill="none"/>
<path d="M255.5 2868.8L295 2868.8" stroke="#1b1919" stroke-width="6.3" fill="none"/>
<path d="M242 2921.5L274.8 2921.5" stroke="#1b1919" stroke-width="6.3" fill="none"/>
<path d="M242 2976.5L274.8 2976.5" stroke="#1b1919" stroke-width="6.3" fill="none"/>
<path d="M242 3031.5L274.8 3031.5" stroke="#1b1919" stroke-width="6.3" fill="none"/>
<path d="M255.5 3083.5L295 3083.5" stroke="#1b1919" stroke-width="6.3" fill="none"/>
<path d="M274.8 3140.35L274.8 3359.65" stroke="#1b1919" stroke-width="6.3" fill="none"/>
<path d="M255.5 3143.5L295 3143.5" stroke="#1b1919" stroke-width="6.3" fill="none"/>
<path d="M242 3175L274.8 3175" stroke="#1b1919" stroke-width="6.3" fill="none"/>
<path d="M242 3265L274.8 3265" stroke="#1b1919" stroke-width="6.3" fill="none"/>
<path d="M242 3356.5L1424 3356.5" stroke="#1b1919" stroke-width="6.3" fill="none"/>
<path d="M335.5 3356.5L335.5 3389.5" stroke="#1b1919" stroke-width="6.3" fill="none"/>
<path d="M464 3356.5L464 3389.5" stroke="#1b1919" stroke-width="6.3" fill="none"/>
<path d="M590.5 3356.5L590.5 3389.5" stroke="#1b1919" stroke-width="6.3" fill="none"/>
<path d="M718.5 3356.5L718.5 3389.5" stroke="#1b1919" stroke-width="6.3" fill="none"/>
<path d="M848 3356.5L848 3389.5" stroke="#1b1919" stroke-width="6.3" fill="none"/>
<path d="M975 3356.5L975 3389.5" stroke="#1b1919" stroke-width="6.3" fill="none"/>
<path d="M1103 3356.5L1103 3389.5" stroke="#1b1919" stroke-width="6.3" fill="none"/>
<path d="M1231 3356.5L1231 3389.5" stroke="#1b1919" stroke-width="6.3" fill="none"/>
<path d="M1359 3356.5L1359 3389.5" stroke="#1b1919" stroke-width="6.3" fill="none"/>
<text x="223" y="2607.9" font-size="54" text-anchor="end" textLength="138" lengthAdjust="spacingAndGlyphs" stroke="#1b1919">2 000</text>
<text x="223" y="2664.1" font-size="54" text-anchor="end" textLength="138" lengthAdjust="spacingAndGlyphs" stroke="#1b1919">1 500</text>
<text x="223" y="2719.4" font-size="54" text-anchor="end" textLength="138" lengthAdjust="spacingAndGlyphs" stroke="#1b1919">1 000</text>
<text x="223" y="2775.6" font-size="54" text-anchor="end" textLength="92.5" lengthAdjust="spacingAndGlyphs" stroke="#1b1919">500</text>
<text x="223" y="2886.6" font-size="54" text-anchor="end" textLength="62" lengthAdjust="spacingAndGlyphs" stroke="#1b1919">40</text>
<text x="223" y="2939.5" font-size="54" text-anchor="end" textLength="62" lengthAdjust="spacingAndGlyphs" stroke="#1b1919">30</text>
<text x="223" y="2994" font-size="54" text-anchor="end" textLength="62" lengthAdjust="spacingAndGlyphs" stroke="#1b1919">20</text>
<text x="223" y="3048.5" font-size="54" text-anchor="end" textLength="62" lengthAdjust="spacingAndGlyphs" stroke="#1b1919">10</text>
<text x="223" y="3191.5" font-size="54" text-anchor="end" textLength="77" lengthAdjust="spacingAndGlyphs" stroke="#1b1919">1.0</text>
<text x="223" y="3282.5" font-size="54" text-anchor="end" textLength="77" lengthAdjust="spacingAndGlyphs" stroke="#1b1919">0.5</text>
<text x="223" y="3374" font-size="54" text-anchor="end" textLength="77" lengthAdjust="spacingAndGlyphs" stroke="#1b1919">0.0</text>
<text x="162" y="2567" font-size="54.5" textLength="161.5" lengthAdjust="spacingAndGlyphs" stroke="#1b1919"><tspan font-style="italic">P</tspan>&lt;0.01</text>
<text x="333" y="2532" font-size="54.5" textLength="164" lengthAdjust="spacingAndGlyphs" stroke="#1b1919"><tspan font-style="italic">P</tspan>&lt;0.01</text>
<text x="334" y="2593" font-size="54.5" textLength="163" lengthAdjust="spacingAndGlyphs" stroke="#1b1919"><tspan font-style="italic">P</tspan>&lt;0.01</text>
<text x="419.5" y="2740.5" font-size="54.5" textLength="164" lengthAdjust="spacingAndGlyphs" stroke="#1b1919"><tspan font-style="italic">P</tspan>&lt;0.01</text>
<text x="543" y="2689.5" font-size="54.5" textLength="164" lengthAdjust="spacingAndGlyphs" stroke="#1b1919"><tspan font-style="italic">P</tspan>&lt;0.01</text>
<text x="634.5" y="2734.5" font-size="54.5" textLength="162.5" lengthAdjust="spacingAndGlyphs" stroke="#1b1919"><tspan font-style="italic">P</tspan>&lt;0.01</text>
<text x="740.5" y="2694.5" font-size="54.5" textLength="162.5" lengthAdjust="spacingAndGlyphs" stroke="#1b1919"><tspan font-style="italic">P</tspan>&lt;0.01</text>
<text x="787" y="2809.5" font-size="54.5" textLength="163.5" lengthAdjust="spacingAndGlyphs" stroke="#1b1919"><tspan font-style="italic">P</tspan>&lt;0.01</text>
<text x="709.5" y="2885.5" font-size="54.5" textLength="162" lengthAdjust="spacingAndGlyphs" stroke="#1b1919"><tspan font-style="italic">P</tspan>&lt;0.01</text>
<text x="936.5" y="2874.5" font-size="54.5" textLength="163" lengthAdjust="spacingAndGlyphs" stroke="#1b1919"><tspan font-style="italic">P</tspan>&lt;0.01</text>
<text x="874" y="2939.5" font-size="54.5" textLength="164.5" lengthAdjust="spacingAndGlyphs" stroke="#1b1919"><tspan font-style="italic">P</tspan>&lt;0.01</text>
<text x="1050.5" y="2994.5" font-size="54.5" textLength="163" lengthAdjust="spacingAndGlyphs" stroke="#1b1919"><tspan font-style="italic">P</tspan>&lt;0.01</text>
<text x="1030.5" y="3064.5" font-size="54.5" textLength="168" lengthAdjust="spacingAndGlyphs" stroke="#1b1919"><tspan font-style="italic">P</tspan>&lt;0.05</text>
<text x="994.5" y="3127" font-size="54.5" textLength="169" lengthAdjust="spacingAndGlyphs" stroke="#1b1919"><tspan font-style="italic">P</tspan>&lt;0.05</text>
<text x="1179" y="2693.5" font-size="54.5" textLength="169.5" lengthAdjust="spacingAndGlyphs" stroke="#1b1919"><tspan font-style="italic">P</tspan>&lt;0.05</text>
<text x="1352" y="2697" font-size="54.5" textLength="168.5" lengthAdjust="spacingAndGlyphs" stroke="#1b1919"><tspan font-style="italic">P</tspan>&lt;0.05</text>
<path d="M294.4 2614.5V2602H326.1V2614.5" stroke="#1b1919" stroke-width="5.8" fill="none" stroke-linejoin="miter"/>
<path d="M329.4 2559V2548H371.1V2559" stroke="#1b1919" stroke-width="5.8" fill="none" stroke-linejoin="miter"/>
<path d="M336.9 2614.5V2602H369.6V2614.5" stroke="#1b1919" stroke-width="5.8" fill="none" stroke-linejoin="miter"/>
<path d="M547.9 2759.5V2745.5H588.1V2759.5" stroke="#1b1919" stroke-width="5.8" fill="none" stroke-linejoin="miter"/>
<path d="M591.2 2722V2709H629.8V2722" stroke="#1b1919" stroke-width="7.4" fill="none" stroke-linejoin="miter"/>
<path d="M677.9 2754.5V2740.5H717.1V2754.5" stroke="#1b1919" stroke-width="5.8" fill="none" stroke-linejoin="miter"/>
<path d="M728.9 2754.5V2740.5H767.1V2754.5" stroke="#1b1919" stroke-width="5.8" fill="none" stroke-linejoin="miter"/>
<path d="M846.4 2838V2823.5H911.1V2838" stroke="#1b1919" stroke-width="5.8" fill="none" stroke-linejoin="miter"/>
<path d="M801.4 2913V2900.5H842.6V2913" stroke="#1b1919" stroke-width="5.8" fill="none" stroke-linejoin="miter"/>
<path d="M982.9 2896.5V2883H1042.1V2896.5" stroke="#1b1919" stroke-width="5.8" fill="none" stroke-linejoin="miter"/>
<path d="M932.9 2962V2948H971.1V2962" stroke="#1b1919" stroke-width="5.8" fill="none" stroke-linejoin="miter"/>
<path d="M1104.4 3022V3007H1163.6V3022" stroke="#1b1919" stroke-width="5.8" fill="none" stroke-linejoin="miter"/>
<path d="M1109.4 3088V3074.5H1139.6V3088" stroke="#1b1919" stroke-width="5.8" fill="none" stroke-linejoin="miter"/>
<path d="M1059.4 3158V3144H1098.1V3158" stroke="#1b1919" stroke-width="5.8" fill="none" stroke-linejoin="miter"/>
<path d="M1310.4 2720.5V2707H1353.6V2720.5" stroke="#1b1919" stroke-width="5.8" fill="none" stroke-linejoin="miter"/>
<path d="M1369.4 2720.5V2707H1413.1V2720.5" stroke="#1b1919" stroke-width="5.8" fill="none" stroke-linejoin="miter"/>
<text x="338.2" y="3429" font-size="52" text-anchor="end" textLength="92.1" lengthAdjust="spacingAndGlyphs" transform="rotate(-45 338.2 3429)" stroke="#1b1919">TCA</text>
<text x="450.5" y="3429" font-size="52" text-anchor="end" textLength="164" lengthAdjust="spacingAndGlyphs" transform="rotate(-45 450.5 3429)" stroke="#1b1919">TCDCA</text>
<text x="580.2" y="3428" font-size="52" text-anchor="end" textLength="219.9" lengthAdjust="spacingAndGlyphs" transform="rotate(-45 580.2 3428)" stroke="#1b1919">T-α-MCA</text>
<text x="710.8" y="3428" font-size="52" text-anchor="end" textLength="221.1" lengthAdjust="spacingAndGlyphs" transform="rotate(-45 710.8 3428)" stroke="#1b1919">T-β-MCA</text>
<text x="835.5" y="3428" font-size="52" text-anchor="end" textLength="169.4" lengthAdjust="spacingAndGlyphs" transform="rotate(-45 835.5 3428)" stroke="#1b1919">TUDCA</text>
<text x="960.3" y="3426.5" font-size="52" text-anchor="end" textLength="170.6" lengthAdjust="spacingAndGlyphs" transform="rotate(-45 960.3 3426.5)" stroke="#1b1919">THDCA</text>
<text x="1095.5" y="3426.5" font-size="52" text-anchor="end" textLength="122.3" lengthAdjust="spacingAndGlyphs" transform="rotate(-45 1095.5 3426.5)" stroke="#1b1919">TLCA</text>
<text x="1230.5" y="3426.5" font-size="52" text-anchor="end" textLength="138.1" lengthAdjust="spacingAndGlyphs" transform="rotate(-45 1230.5 3426.5)" stroke="#1b1919">GDCA</text>
<text x="1381.2" y="3428" font-size="52" text-anchor="end" textLength="132.4" lengthAdjust="spacingAndGlyphs" transform="rotate(-45 1381.2 3428)" stroke="#1b1919">TDCA</text>
<path d="M268.5 3598.5L749 3598.5" stroke="#1b1919" stroke-width="4.5" fill="none"/>
<path d="M799 3595L1232 3595" stroke="#1b1919" stroke-width="4.5" fill="none"/>
<text x="388.5" y="3667" font-size="53" textLength="267" lengthAdjust="spacingAndGlyphs" stroke="#1b1919">初级胆汁酸</text>
<text x="886" y="3656" font-size="53" textLength="264" lengthAdjust="spacingAndGlyphs" stroke="#1b1919">次级胆汁酸</text>
<text x="53.5" y="3236" font-size="52.3" textLength="314" lengthAdjust="spacingAndGlyphs" transform="rotate(-90 53.5 3236)" stroke="#1b1919">结合型胆汁酸</text>
<text x="53" y="2919.5" font-size="52" textLength="212" lengthAdjust="spacingAndGlyphs" transform="rotate(-90 53 2919.5)" stroke="#1b1919">(ng/mL)</text>
<rect x="1577" y="2756.5" width="67" height="33.5" fill="#cfc7c4"/>
<text x="1661" y="2791.7" font-size="52.4" textLength="187" lengthAdjust="spacingAndGlyphs" fill="#cfc7c4" stroke="#cfc7c4">Control</text>
<rect x="1577" y="2841.5" width="67" height="33" fill="#9a74a1"/>
<text x="1661" y="2875.7" font-size="52.4" textLength="126" lengthAdjust="spacingAndGlyphs" fill="#9a74a1" stroke="#9a74a1">H-FA</text>
<rect x="1577" y="2926" width="67" height="33" fill="#8f97b3"/>
<text x="1661" y="2959.7" font-size="52.4" textLength="136" lengthAdjust="spacingAndGlyphs" fill="#8f97b3" stroke="#8f97b3">DEHP</text>
<rect x="1577" y="3010" width="67" height="33.5" fill="#abc89d"/>
<text x="1661" y="3044.2" font-size="52.4" textLength="284.5" lengthAdjust="spacingAndGlyphs" fill="#abc89d" stroke="#abc89d">DEHP+L-FA</text>
<rect x="1577" y="3095" width="67" height="33" fill="#a69879"/>
<text x="1661" y="3128.7" font-size="52.4" textLength="295.5" lengthAdjust="spacingAndGlyphs" fill="#a69879" stroke="#a69879">DEHP+H-FA</text>
<rect x="168.3" y="3812.2" width="238.77" height="27.1" fill="#2e1b19"/>
<rect x="407.07" y="3812.2" width="238.77" height="27.1" fill="#e7392d"/>
<rect x="645.84" y="3812.2" width="238.77" height="27.1" fill="#3e3981"/>
<rect x="884.61" y="3812.2" width="238.77" height="27.1" fill="#467b72"/>
<rect x="1123.38" y="3812.2" width="238.77" height="27.1" fill="#a85896"/>
<rect x="168.3" y="3847.6" width="40.09" height="59.2" fill="#a39bc2"/>
<rect x="208.1" y="3847.6" width="40.09" height="59.2" fill="#948ab8"/>
<rect x="247.89" y="3847.6" width="40.09" height="59.2" fill="#c2bcd7"/>
<rect x="287.69" y="3847.6" width="40.09" height="59.2" fill="#7569a4"/>
<rect x="327.48" y="3847.6" width="40.09" height="59.2" fill="#948ab8"/>
<rect x="367.28" y="3847.6" width="40.09" height="59.2" fill="#8579ae"/>
<rect x="407.07" y="3847.6" width="40.09" height="59.2" fill="#7569a4"/>
<rect x="446.87" y="3847.6" width="40.09" height="59.2" fill="#a39bc2"/>
<rect x="486.66" y="3847.6" width="40.09" height="59.2" fill="#8579ae"/>
<rect x="526.46" y="3847.6" width="40.09" height="59.2" fill="#b2accc"/>
<rect x="566.25" y="3847.6" width="40.09" height="59.2" fill="#fefdfe"/>
<rect x="606.05" y="3847.6" width="40.09" height="59.2" fill="#6e609f"/>
<rect x="645.84" y="3847.6" width="40.09" height="59.2" fill="#d1cde1"/>
<rect x="685.63" y="3847.6" width="40.09" height="59.2" fill="#e0deeb"/>
<rect x="725.43" y="3847.6" width="40.09" height="59.2" fill="#aba3c7"/>
<rect x="765.23" y="3847.6" width="40.09" height="59.2" fill="#fbe3e1"/>
<rect x="805.02" y="3847.6" width="40.09" height="59.2" fill="#948ab8"/>
<rect x="844.82" y="3847.6" width="40.09" height="59.2" fill="#f0eef5"/>
<rect x="884.61" y="3847.6" width="40.09" height="59.2" fill="#fbe3e1"/>
<rect x="924.4" y="3847.6" width="40.09" height="59.2" fill="#f0eef5"/>
<rect x="964.2" y="3847.6" width="40.09" height="59.2" fill="#de9b99"/>
<rect x="1004" y="3847.6" width="40.09" height="59.2" fill="#f0eef5"/>
<rect x="1043.79" y="3847.6" width="40.09" height="59.2" fill="#c2bcd7"/>
<rect x="1083.59" y="3847.6" width="40.09" height="59.2" fill="#bab4d2"/>
<rect x="1123.38" y="3847.6" width="40.09" height="59.2" fill="#aba3c7"/>
<rect x="1163.17" y="3847.6" width="40.09" height="59.2" fill="#8579ae"/>
<rect x="1202.97" y="3847.6" width="40.09" height="59.2" fill="#6e609f"/>
<rect x="1242.77" y="3847.6" width="40.09" height="59.2" fill="#d1cde1"/>
<rect x="1282.56" y="3847.6" width="40.09" height="59.2" fill="#8579ae"/>
<rect x="1322.36" y="3847.6" width="40.09" height="59.2" fill="#6e609f"/>
<rect x="168.3" y="3906.5" width="40.09" height="59.2" fill="#a39bc2"/>
<rect x="208.1" y="3906.5" width="40.09" height="59.2" fill="#8579ae"/>
<rect x="247.89" y="3906.5" width="40.09" height="59.2" fill="#a39bc2"/>
<rect x="287.69" y="3906.5" width="40.09" height="59.2" fill="#8579ae"/>
<rect x="327.48" y="3906.5" width="40.09" height="59.2" fill="#b2accc"/>
<rect x="367.28" y="3906.5" width="40.09" height="59.2" fill="#7569a4"/>
<rect x="407.07" y="3906.5" width="40.09" height="59.2" fill="#7569a4"/>
<rect x="446.87" y="3906.5" width="40.09" height="59.2" fill="#a39bc2"/>
<rect x="486.66" y="3906.5" width="40.09" height="59.2" fill="#e5e3ee"/>
<rect x="526.46" y="3906.5" width="40.09" height="59.2" fill="#948ab8"/>
<rect x="566.25" y="3906.5" width="40.09" height="59.2" fill="#6e609f"/>
<rect x="606.05" y="3906.5" width="40.09" height="59.2" fill="#f3f2f7"/>
<rect x="645.84" y="3906.5" width="40.09" height="59.2" fill="#f0c5c2"/>
<rect x="685.63" y="3906.5" width="40.09" height="59.2" fill="#f0c5c2"/>
<rect x="725.43" y="3906.5" width="40.09" height="59.2" fill="#bab4d2"/>
<rect x="765.23" y="3906.5" width="40.09" height="59.2" fill="#e8e6f0"/>
<rect x="805.02" y="3906.5" width="40.09" height="59.2" fill="#aba3c7"/>
<rect x="844.82" y="3906.5" width="40.09" height="59.2" fill="#f0c5c2"/>
<rect x="884.61" y="3906.5" width="40.09" height="59.2" fill="#bab4d2"/>
<rect x="924.4" y="3906.5" width="40.09" height="59.2" fill="#948ab8"/>
<rect x="964.2" y="3906.5" width="40.09" height="59.2" fill="#fdf0ed"/>
<rect x="1004" y="3906.5" width="40.09" height="59.2" fill="#8579ae"/>
<rect x="1043.79" y="3906.5" width="40.09" height="59.2" fill="#f0c5c2"/>
<rect x="1083.59" y="3906.5" width="40.09" height="59.2" fill="#aba3c7"/>
<rect x="1123.38" y="3906.5" width="40.09" height="59.2" fill="#8579ae"/>
<rect x="1163.17" y="3906.5" width="40.09" height="59.2" fill="#7d71a9"/>
<rect x="1202.97" y="3906.5" width="40.09" height="59.2" fill="#b2accc"/>
<rect x="1242.77" y="3906.5" width="40.09" height="59.2" fill="#66589a"/>
<rect x="1282.56" y="3906.5" width="40.09" height="59.2" fill="#b2accc"/>
<rect x="1322.36" y="3906.5" width="40.09" height="59.2" fill="#8c82b3"/>
<rect x="168.3" y="3965.4" width="40.09" height="59.2" fill="#948ab8"/>
<rect x="208.1" y="3965.4" width="40.09" height="59.2" fill="#8579ae"/>
<rect x="247.89" y="3965.4" width="40.09" height="59.2" fill="#a39bc2"/>
<rect x="287.69" y="3965.4" width="40.09" height="59.2" fill="#8579ae"/>
<rect x="327.48" y="3965.4" width="40.09" height="59.2" fill="#8579ae"/>
<rect x="367.28" y="3965.4" width="40.09" height="59.2" fill="#a39bc2"/>
<rect x="407.07" y="3965.4" width="40.09" height="59.2" fill="#7569a4"/>
<rect x="446.87" y="3965.4" width="40.09" height="59.2" fill="#948ab8"/>
<rect x="486.66" y="3965.4" width="40.09" height="59.2" fill="#a39bc2"/>
<rect x="526.46" y="3965.4" width="40.09" height="59.2" fill="#8f85b5"/>
<rect x="566.25" y="3965.4" width="40.09" height="59.2" fill="#7569a4"/>
<rect x="606.05" y="3965.4" width="40.09" height="59.2" fill="#eae8f1"/>
<rect x="645.84" y="3965.4" width="40.09" height="59.2" fill="#fefdfe"/>
<rect x="685.63" y="3965.4" width="40.09" height="59.2" fill="#b2accc"/>
<rect x="725.43" y="3965.4" width="40.09" height="59.2" fill="#f0eef5"/>
<rect x="765.23" y="3965.4" width="40.09" height="59.2" fill="#aba3c7"/>
<rect x="805.02" y="3965.4" width="40.09" height="59.2" fill="#e0deeb"/>
<rect x="844.82" y="3965.4" width="40.09" height="59.2" fill="#be5959"/>
<rect x="884.61" y="3965.4" width="40.09" height="59.2" fill="#a39bc2"/>
<rect x="924.4" y="3965.4" width="40.09" height="59.2" fill="#948ab8"/>
<rect x="964.2" y="3965.4" width="40.09" height="59.2" fill="#fefdfe"/>
<rect x="1004" y="3965.4" width="40.09" height="59.2" fill="#8c82b3"/>
<rect x="1043.79" y="3965.4" width="40.09" height="59.2" fill="#e8e6f0"/>
<rect x="1083.59" y="3965.4" width="40.09" height="59.2" fill="#fdf8f5"/>
<rect x="1123.38" y="3965.4" width="40.09" height="59.2" fill="#8579ae"/>
<rect x="1163.17" y="3965.4" width="40.09" height="59.2" fill="#7d71a9"/>
<rect x="1202.97" y="3965.4" width="40.09" height="59.2" fill="#d1cde1"/>
<rect x="1242.77" y="3965.4" width="40.09" height="59.2" fill="#948ab8"/>
<rect x="1282.56" y="3965.4" width="40.09" height="59.2" fill="#9c92bd"/>
<rect x="1322.36" y="3965.4" width="40.09" height="59.2" fill="#8579ae"/>
<rect x="168.3" y="4024.3" width="40.09" height="59.2" fill="#8579ae"/>
<rect x="208.1" y="4024.3" width="40.09" height="59.2" fill="#c2bcd7"/>
<rect x="247.89" y="4024.3" width="40.09" height="59.2" fill="#b2accc"/>
<rect x="287.69" y="4024.3" width="40.09" height="59.2" fill="#7d71a9"/>
<rect x="327.48" y="4024.3" width="40.09" height="59.2" fill="#e3e1ed"/>
<rect x="367.28" y="4024.3" width="40.09" height="59.2" fill="#a39bc2"/>
<rect x="407.07" y="4024.3" width="40.09" height="59.2" fill="#a39bc2"/>
<rect x="446.87" y="4024.3" width="40.09" height="59.2" fill="#c2bcd7"/>
<rect x="486.66" y="4024.3" width="40.09" height="59.2" fill="#948ab8"/>
<rect x="526.46" y="4024.3" width="40.09" height="59.2" fill="#aea6c9"/>
<rect x="566.25" y="4024.3" width="40.09" height="59.2" fill="#7569a4"/>
<rect x="606.05" y="4024.3" width="40.09" height="59.2" fill="#6e609f"/>
<rect x="645.84" y="4024.3" width="40.09" height="59.2" fill="#d1cde1"/>
<rect x="685.63" y="4024.3" width="40.09" height="59.2" fill="#b03a37"/>
<rect x="725.43" y="4024.3" width="40.09" height="59.2" fill="#b2accc"/>
<rect x="765.23" y="4024.3" width="40.09" height="59.2" fill="#f0c5c2"/>
<rect x="805.02" y="4024.3" width="40.09" height="59.2" fill="#f0eef5"/>
<rect x="844.82" y="4024.3" width="40.09" height="59.2" fill="#aba3c7"/>
<rect x="884.61" y="4024.3" width="40.09" height="59.2" fill="#9c92bd"/>
<rect x="924.4" y="4024.3" width="40.09" height="59.2" fill="#aba3c7"/>
<rect x="964.2" y="4024.3" width="40.09" height="59.2" fill="#948ab8"/>
<rect x="1004" y="4024.3" width="40.09" height="59.2" fill="#c9c5dc"/>
<rect x="1043.79" y="4024.3" width="40.09" height="59.2" fill="#b2accc"/>
<rect x="1083.59" y="4024.3" width="40.09" height="59.2" fill="#7d71a9"/>
<rect x="1123.38" y="4024.3" width="40.09" height="59.2" fill="#7d71a9"/>
<rect x="1163.17" y="4024.3" width="40.09" height="59.2" fill="#a39bc2"/>
<rect x="1202.97" y="4024.3" width="40.09" height="59.2" fill="#aba3c7"/>
<rect x="1242.77" y="4024.3" width="40.09" height="59.2" fill="#9c92bd"/>
<rect x="1282.56" y="4024.3" width="40.09" height="59.2" fill="#948ab8"/>
<rect x="1322.36" y="4024.3" width="40.09" height="59.2" fill="#a39bc2"/>
<rect x="168.3" y="4083.2" width="40.09" height="59.2" fill="#a39bc2"/>
<rect x="208.1" y="4083.2" width="40.09" height="59.2" fill="#7569a4"/>
<rect x="247.89" y="4083.2" width="40.09" height="59.2" fill="#d1cde1"/>
<rect x="287.69" y="4083.2" width="40.09" height="59.2" fill="#8c82b3"/>
<rect x="327.48" y="4083.2" width="40.09" height="59.2" fill="#c2bcd7"/>
<rect x="367.28" y="4083.2" width="40.09" height="59.2" fill="#dcd9e8"/>
<rect x="407.07" y="4083.2" width="40.09" height="59.2" fill="#8c82b3"/>
<rect x="446.87" y="4083.2" width="40.09" height="59.2" fill="#c2bcd7"/>
<rect x="486.66" y="4083.2" width="40.09" height="59.2" fill="#a39bc2"/>
<rect x="526.46" y="4083.2" width="40.09" height="59.2" fill="#8579ae"/>
<rect x="566.25" y="4083.2" width="40.09" height="59.2" fill="#7569a4"/>
<rect x="606.05" y="4083.2" width="40.09" height="59.2" fill="#c2bcd7"/>
<rect x="645.84" y="4083.2" width="40.09" height="59.2" fill="#f0eef5"/>
<rect x="685.63" y="4083.2" width="40.09" height="59.2" fill="#fefdfe"/>
<rect x="725.43" y="4083.2" width="40.09" height="59.2" fill="#bab4d2"/>
<rect x="765.23" y="4083.2" width="40.09" height="59.2" fill="#e9b3b0"/>
<rect x="805.02" y="4083.2" width="40.09" height="59.2" fill="#c76e6d"/>
<rect x="844.82" y="4083.2" width="40.09" height="59.2" fill="#f6d5d2"/>
<rect x="884.61" y="4083.2" width="40.09" height="59.2" fill="#8c82b3"/>
<rect x="924.4" y="4083.2" width="40.09" height="59.2" fill="#7569a4"/>
<rect x="964.2" y="4083.2" width="40.09" height="59.2" fill="#d1cde1"/>
<rect x="1004" y="4083.2" width="40.09" height="59.2" fill="#8579ae"/>
<rect x="1043.79" y="4083.2" width="40.09" height="59.2" fill="#aba3c7"/>
<rect x="1083.59" y="4083.2" width="40.09" height="59.2" fill="#8579ae"/>
<rect x="1123.38" y="4083.2" width="40.09" height="59.2" fill="#8c82b3"/>
<rect x="1163.17" y="4083.2" width="40.09" height="59.2" fill="#948ab8"/>
<rect x="1202.97" y="4083.2" width="40.09" height="59.2" fill="#b2accc"/>
<rect x="1242.77" y="4083.2" width="40.09" height="59.2" fill="#7d71a9"/>
<rect x="1282.56" y="4083.2" width="40.09" height="59.2" fill="#8579ae"/>
<rect x="1322.36" y="4083.2" width="40.09" height="59.2" fill="#8c82b3"/>
<rect x="168.3" y="4142.1" width="40.09" height="59.2" fill="#948ab8"/>
<rect x="208.1" y="4142.1" width="40.09" height="59.2" fill="#948ab8"/>
<rect x="247.89" y="4142.1" width="40.09" height="59.2" fill="#9c92bd"/>
<rect x="287.69" y="4142.1" width="40.09" height="59.2" fill="#948ab8"/>
<rect x="327.48" y="4142.1" width="40.09" height="59.2" fill="#948ab8"/>
<rect x="367.28" y="4142.1" width="40.09" height="59.2" fill="#948ab8"/>
<rect x="407.07" y="4142.1" width="40.09" height="59.2" fill="#948ab8"/>
<rect x="446.87" y="4142.1" width="40.09" height="59.2" fill="#a39bc2"/>
<rect x="486.66" y="4142.1" width="40.09" height="59.2" fill="#948ab8"/>
<rect x="526.46" y="4142.1" width="40.09" height="59.2" fill="#948ab8"/>
<rect x="566.25" y="4142.1" width="40.09" height="59.2" fill="#8c82b3"/>
<rect x="606.05" y="4142.1" width="40.09" height="59.2" fill="#948ab8"/>
<rect x="645.84" y="4142.1" width="40.09" height="59.2" fill="#d38282"/>
<rect x="685.63" y="4142.1" width="40.09" height="59.2" fill="#a39bc2"/>
<rect x="725.43" y="4142.1" width="40.09" height="59.2" fill="#d1cde1"/>
<rect x="765.23" y="4142.1" width="40.09" height="59.2" fill="#c2bcd7"/>
<rect x="805.02" y="4142.1" width="40.09" height="59.2" fill="#be5959"/>
<rect x="844.82" y="4142.1" width="40.09" height="59.2" fill="#e9b3b0"/>
<rect x="884.61" y="4142.1" width="40.09" height="59.2" fill="#c2bcd7"/>
<rect x="924.4" y="4142.1" width="40.09" height="59.2" fill="#8c82b3"/>
<rect x="964.2" y="4142.1" width="40.09" height="59.2" fill="#9c92bd"/>
<rect x="1004" y="4142.1" width="40.09" height="59.2" fill="#b2accc"/>
<rect x="1043.79" y="4142.1" width="40.09" height="59.2" fill="#c2bcd7"/>
<rect x="1083.59" y="4142.1" width="40.09" height="59.2" fill="#d9d5e6"/>
<rect x="1123.38" y="4142.1" width="40.09" height="59.2" fill="#8c82b3"/>
<rect x="1163.17" y="4142.1" width="40.09" height="59.2" fill="#9c92bd"/>
<rect x="1202.97" y="4142.1" width="40.09" height="59.2" fill="#948ab8"/>
<rect x="1242.77" y="4142.1" width="40.09" height="59.2" fill="#9c92bd"/>
<rect x="1282.56" y="4142.1" width="40.09" height="59.2" fill="#948ab8"/>
<rect x="1322.36" y="4142.1" width="40.09" height="59.2" fill="#9c92bd"/>
<rect x="168.3" y="4201" width="40.09" height="59.2" fill="#7d71a9"/>
<rect x="208.1" y="4201" width="40.09" height="59.2" fill="#e8e6f0"/>
<rect x="247.89" y="4201" width="40.09" height="59.2" fill="#a39bc2"/>
<rect x="287.69" y="4201" width="40.09" height="59.2" fill="#948ab8"/>
<rect x="327.48" y="4201" width="40.09" height="59.2" fill="#7569a4"/>
<rect x="367.28" y="4201" width="40.09" height="59.2" fill="#8579ae"/>
<rect x="407.07" y="4201" width="40.09" height="59.2" fill="#f9f8fb"/>
<rect x="446.87" y="4201" width="40.09" height="59.2" fill="#6b5d9d"/>
<rect x="486.66" y="4201" width="40.09" height="59.2" fill="#695b9c"/>
<rect x="526.46" y="4201" width="40.09" height="59.2" fill="#695b9c"/>
<rect x="566.25" y="4201" width="40.09" height="59.2" fill="#7569a4"/>
<rect x="606.05" y="4201" width="40.09" height="59.2" fill="#8579ae"/>
<rect x="645.84" y="4201" width="40.09" height="59.2" fill="#d38282"/>
<rect x="685.63" y="4201" width="40.09" height="59.2" fill="#f6d5d2"/>
<rect x="725.43" y="4201" width="40.09" height="59.2" fill="#d1cde1"/>
<rect x="765.23" y="4201" width="40.09" height="59.2" fill="#fdf0ed"/>
<rect x="805.02" y="4201" width="40.09" height="59.2" fill="#e8e6f0"/>
<rect x="844.82" y="4201" width="40.09" height="59.2" fill="#d1cde1"/>
<rect x="884.61" y="4201" width="40.09" height="59.2" fill="#9c92bd"/>
<rect x="924.4" y="4201" width="40.09" height="59.2" fill="#9c92bd"/>
<rect x="964.2" y="4201" width="40.09" height="59.2" fill="#c2bcd7"/>
<rect x="1004" y="4201" width="40.09" height="59.2" fill="#c2bcd7"/>
<rect x="1043.79" y="4201" width="40.09" height="59.2" fill="#d9d5e6"/>
<rect x="1083.59" y="4201" width="40.09" height="59.2" fill="#b2accc"/>
<rect x="1123.38" y="4201" width="40.09" height="59.2" fill="#a39bc2"/>
<rect x="1163.17" y="4201" width="40.09" height="59.2" fill="#aba3c7"/>
<rect x="1202.97" y="4201" width="40.09" height="59.2" fill="#bab4d2"/>
<rect x="1242.77" y="4201" width="40.09" height="59.2" fill="#948ab8"/>
<rect x="1282.56" y="4201" width="40.09" height="59.2" fill="#e0deeb"/>
<rect x="1322.36" y="4201" width="40.09" height="59.2" fill="#9c92bd"/>
<rect x="168.3" y="4259.9" width="40.09" height="59.2" fill="#8579ae"/>
<rect x="208.1" y="4259.9" width="40.09" height="59.2" fill="#8579ae"/>
<rect x="247.89" y="4259.9" width="40.09" height="59.2" fill="#9c92bd"/>
<rect x="287.69" y="4259.9" width="40.09" height="59.2" fill="#a39bc2"/>
<rect x="327.48" y="4259.9" width="40.09" height="59.2" fill="#948ab8"/>
<rect x="367.28" y="4259.9" width="40.09" height="59.2" fill="#8579ae"/>
<rect x="407.07" y="4259.9" width="40.09" height="59.2" fill="#948ab8"/>
<rect x="446.87" y="4259.9" width="40.09" height="59.2" fill="#9c92bd"/>
<rect x="486.66" y="4259.9" width="40.09" height="59.2" fill="#8c82b3"/>
<rect x="526.46" y="4259.9" width="40.09" height="59.2" fill="#948ab8"/>
<rect x="566.25" y="4259.9" width="40.09" height="59.2" fill="#7d71a9"/>
<rect x="606.05" y="4259.9" width="40.09" height="59.2" fill="#8579ae"/>
<rect x="645.84" y="4259.9" width="40.09" height="59.2" fill="#c2bcd7"/>
<rect x="685.63" y="4259.9" width="40.09" height="59.2" fill="#e9b3b0"/>
<rect x="725.43" y="4259.9" width="40.09" height="59.2" fill="#fbe3e1"/>
<rect x="765.23" y="4259.9" width="40.09" height="59.2" fill="#d9d5e6"/>
<rect x="805.02" y="4259.9" width="40.09" height="59.2" fill="#c76e6d"/>
<rect x="844.82" y="4259.9" width="40.09" height="59.2" fill="#f6d5d2"/>
<rect x="884.61" y="4259.9" width="40.09" height="59.2" fill="#948ab8"/>
<rect x="924.4" y="4259.9" width="40.09" height="59.2" fill="#9c92bd"/>
<rect x="964.2" y="4259.9" width="40.09" height="59.2" fill="#e8e6f0"/>
<rect x="1004" y="4259.9" width="40.09" height="59.2" fill="#fefdfe"/>
<rect x="1043.79" y="4259.9" width="40.09" height="59.2" fill="#f0eef5"/>
<rect x="1083.59" y="4259.9" width="40.09" height="59.2" fill="#8c82b3"/>
<rect x="1123.38" y="4259.9" width="40.09" height="59.2" fill="#8579ae"/>
<rect x="1163.17" y="4259.9" width="40.09" height="59.2" fill="#948ab8"/>
<rect x="1202.97" y="4259.9" width="40.09" height="59.2" fill="#b2accc"/>
<rect x="1242.77" y="4259.9" width="40.09" height="59.2" fill="#aba3c7"/>
<rect x="1282.56" y="4259.9" width="40.09" height="59.2" fill="#8579ae"/>
<rect x="1322.36" y="4259.9" width="40.09" height="59.2" fill="#948ab8"/>
<rect x="168.3" y="4318.8" width="40.09" height="59.2" fill="#8579ae"/>
<rect x="208.1" y="4318.8" width="40.09" height="59.2" fill="#7d71a9"/>
<rect x="247.89" y="4318.8" width="40.09" height="59.2" fill="#8c82b3"/>
<rect x="287.69" y="4318.8" width="40.09" height="59.2" fill="#7d71a9"/>
<rect x="327.48" y="4318.8" width="40.09" height="59.2" fill="#a39bc2"/>
<rect x="367.28" y="4318.8" width="40.09" height="59.2" fill="#7d71a9"/>
<rect x="407.07" y="4318.8" width="40.09" height="59.2" fill="#a39bc2"/>
<rect x="446.87" y="4318.8" width="40.09" height="59.2" fill="#9c92bd"/>
<rect x="486.66" y="4318.8" width="40.09" height="59.2" fill="#948ab8"/>
<rect x="526.46" y="4318.8" width="40.09" height="59.2" fill="#9c92bd"/>
<rect x="566.25" y="4318.8" width="40.09" height="59.2" fill="#7569a4"/>
<rect x="606.05" y="4318.8" width="40.09" height="59.2" fill="#8579ae"/>
<rect x="645.84" y="4318.8" width="40.09" height="59.2" fill="#f6d5d2"/>
<rect x="685.63" y="4318.8" width="40.09" height="59.2" fill="#d1cde1"/>
<rect x="725.43" y="4318.8" width="40.09" height="59.2" fill="#f0eef5"/>
<rect x="765.23" y="4318.8" width="40.09" height="59.2" fill="#de9b99"/>
<rect x="805.02" y="4318.8" width="40.09" height="59.2" fill="#fbe3e1"/>
<rect x="844.82" y="4318.8" width="40.09" height="59.2" fill="#de9b99"/>
<rect x="884.61" y="4318.8" width="40.09" height="59.2" fill="#9c92bd"/>
<rect x="924.4" y="4318.8" width="40.09" height="59.2" fill="#aba3c7"/>
<rect x="964.2" y="4318.8" width="40.09" height="59.2" fill="#fdf0ed"/>
<rect x="1004" y="4318.8" width="40.09" height="59.2" fill="#f6d5d2"/>
<rect x="1043.79" y="4318.8" width="40.09" height="59.2" fill="#c2bcd7"/>
<rect x="1083.59" y="4318.8" width="40.09" height="59.2" fill="#b2accc"/>
<rect x="1123.38" y="4318.8" width="40.09" height="59.2" fill="#8c82b3"/>
<rect x="1163.17" y="4318.8" width="40.09" height="59.2" fill="#7d71a9"/>
<rect x="1202.97" y="4318.8" width="40.09" height="59.2" fill="#8579ae"/>
<rect x="1242.77" y="4318.8" width="40.09" height="59.2" fill="#948ab8"/>
<rect x="1282.56" y="4318.8" width="40.09" height="59.2" fill="#948ab8"/>
<rect x="1322.36" y="4318.8" width="40.09" height="59.2" fill="#8c82b3"/>
<rect x="168.3" y="4377.7" width="40.09" height="59.2" fill="#9c92bd"/>
<rect x="208.1" y="4377.7" width="40.09" height="59.2" fill="#8c82b3"/>
<rect x="247.89" y="4377.7" width="40.09" height="59.2" fill="#8579ae"/>
<rect x="287.69" y="4377.7" width="40.09" height="59.2" fill="#a39bc2"/>
<rect x="327.48" y="4377.7" width="40.09" height="59.2" fill="#948ab8"/>
<rect x="367.28" y="4377.7" width="40.09" height="59.2" fill="#8579ae"/>
<rect x="407.07" y="4377.7" width="40.09" height="59.2" fill="#a39bc2"/>
<rect x="446.87" y="4377.7" width="40.09" height="59.2" fill="#aba3c7"/>
<rect x="486.66" y="4377.7" width="40.09" height="59.2" fill="#8c82b3"/>
<rect x="526.46" y="4377.7" width="40.09" height="59.2" fill="#9c92bd"/>
<rect x="566.25" y="4377.7" width="40.09" height="59.2" fill="#948ab8"/>
<rect x="606.05" y="4377.7" width="40.09" height="59.2" fill="#8579ae"/>
<rect x="645.84" y="4377.7" width="40.09" height="59.2" fill="#de9b99"/>
<rect x="685.63" y="4377.7" width="40.09" height="59.2" fill="#e9b3b0"/>
<rect x="725.43" y="4377.7" width="40.09" height="59.2" fill="#e9b3b0"/>
<rect x="765.23" y="4377.7" width="40.09" height="59.2" fill="#f0c5c2"/>
<rect x="805.02" y="4377.7" width="40.09" height="59.2" fill="#fbe3e1"/>
<rect x="844.82" y="4377.7" width="40.09" height="59.2" fill="#f6d5d2"/>
<rect x="884.61" y="4377.7" width="40.09" height="59.2" fill="#8579ae"/>
<rect x="924.4" y="4377.7" width="40.09" height="59.2" fill="#8c82b3"/>
<rect x="964.2" y="4377.7" width="40.09" height="59.2" fill="#d9d5e6"/>
<rect x="1004" y="4377.7" width="40.09" height="59.2" fill="#948ab8"/>
<rect x="1043.79" y="4377.7" width="40.09" height="59.2" fill="#c2bcd7"/>
<rect x="1083.59" y="4377.7" width="40.09" height="59.2" fill="#aba3c7"/>
<rect x="1123.38" y="4377.7" width="40.09" height="59.2" fill="#8c82b3"/>
<rect x="1163.17" y="4377.7" width="40.09" height="59.2" fill="#b2accc"/>
<rect x="1202.97" y="4377.7" width="40.09" height="59.2" fill="#8c82b3"/>
<rect x="1242.77" y="4377.7" width="40.09" height="59.2" fill="#948ab8"/>
<rect x="1282.56" y="4377.7" width="40.09" height="59.2" fill="#8579ae"/>
<rect x="1322.36" y="4377.7" width="40.09" height="59.2" fill="#9c92bd"/>
<rect x="168.3" y="4436.6" width="40.09" height="59.2" fill="#8c82b3"/>
<rect x="208.1" y="4436.6" width="40.09" height="59.2" fill="#8c82b3"/>
<rect x="247.89" y="4436.6" width="40.09" height="59.2" fill="#8579ae"/>
<rect x="287.69" y="4436.6" width="40.09" height="59.2" fill="#948ab8"/>
<rect x="327.48" y="4436.6" width="40.09" height="59.2" fill="#8579ae"/>
<rect x="367.28" y="4436.6" width="40.09" height="59.2" fill="#8579ae"/>
<rect x="407.07" y="4436.6" width="40.09" height="59.2" fill="#948ab8"/>
<rect x="446.87" y="4436.6" width="40.09" height="59.2" fill="#948ab8"/>
<rect x="486.66" y="4436.6" width="40.09" height="59.2" fill="#8579ae"/>
<rect x="526.46" y="4436.6" width="40.09" height="59.2" fill="#8c82b3"/>
<rect x="566.25" y="4436.6" width="40.09" height="59.2" fill="#8579ae"/>
<rect x="606.05" y="4436.6" width="40.09" height="59.2" fill="#8c82b3"/>
<rect x="645.84" y="4436.6" width="40.09" height="59.2" fill="#fbe3e1"/>
<rect x="685.63" y="4436.6" width="40.09" height="59.2" fill="#de9b99"/>
<rect x="725.43" y="4436.6" width="40.09" height="59.2" fill="#f7f7fa"/>
<rect x="765.23" y="4436.6" width="40.09" height="59.2" fill="#e8e6f0"/>
<rect x="805.02" y="4436.6" width="40.09" height="59.2" fill="#f6d5d2"/>
<rect x="844.82" y="4436.6" width="40.09" height="59.2" fill="#e9b3b0"/>
<rect x="884.61" y="4436.6" width="40.09" height="59.2" fill="#948ab8"/>
<rect x="924.4" y="4436.6" width="40.09" height="59.2" fill="#9c92bd"/>
<rect x="964.2" y="4436.6" width="40.09" height="59.2" fill="#fbe3e1"/>
<rect x="1004" y="4436.6" width="40.09" height="59.2" fill="#c2bcd7"/>
<rect x="1043.79" y="4436.6" width="40.09" height="59.2" fill="#fbe3e1"/>
<rect x="1083.59" y="4436.6" width="40.09" height="59.2" fill="#b2accc"/>
<rect x="1123.38" y="4436.6" width="40.09" height="59.2" fill="#b2accc"/>
<rect x="1163.17" y="4436.6" width="40.09" height="59.2" fill="#8579ae"/>
<rect x="1202.97" y="4436.6" width="40.09" height="59.2" fill="#948ab8"/>
<rect x="1242.77" y="4436.6" width="40.09" height="59.2" fill="#aba3c7"/>
<rect x="1282.56" y="4436.6" width="40.09" height="59.2" fill="#7d71a9"/>
<rect x="1322.36" y="4436.6" width="40.09" height="59.2" fill="#8c82b3"/>
<rect x="168.3" y="4495.5" width="40.09" height="59.2" fill="#8c82b3"/>
<rect x="208.1" y="4495.5" width="40.09" height="59.2" fill="#8c82b3"/>
<rect x="247.89" y="4495.5" width="40.09" height="59.2" fill="#8579ae"/>
<rect x="287.69" y="4495.5" width="40.09" height="59.2" fill="#948ab8"/>
<rect x="327.48" y="4495.5" width="40.09" height="59.2" fill="#8579ae"/>
<rect x="367.28" y="4495.5" width="40.09" height="59.2" fill="#8579ae"/>
<rect x="407.07" y="4495.5" width="40.09" height="59.2" fill="#948ab8"/>
<rect x="446.87" y="4495.5" width="40.09" height="59.2" fill="#948ab8"/>
<rect x="486.66" y="4495.5" width="40.09" height="59.2" fill="#8579ae"/>
<rect x="526.46" y="4495.5" width="40.09" height="59.2" fill="#8c82b3"/>
<rect x="566.25" y="4495.5" width="40.09" height="59.2" fill="#8579ae"/>
<rect x="606.05" y="4495.5" width="40.09" height="59.2" fill="#8c82b3"/>
<rect x="645.84" y="4495.5" width="40.09" height="59.2" fill="#f6d5d2"/>
<rect x="685.63" y="4495.5" width="40.09" height="59.2" fill="#d9d5e6"/>
<rect x="725.43" y="4495.5" width="40.09" height="59.2" fill="#de9b99"/>
<rect x="765.23" y="4495.5" width="40.09" height="59.2" fill="#fefdfe"/>
<rect x="805.02" y="4495.5" width="40.09" height="59.2" fill="#f9f8fb"/>
<rect x="844.82" y="4495.5" width="40.09" height="59.2" fill="#f0c5c2"/>
<rect x="884.61" y="4495.5" width="40.09" height="59.2" fill="#948ab8"/>
<rect x="924.4" y="4495.5" width="40.09" height="59.2" fill="#9c92bd"/>
<rect x="964.2" y="4495.5" width="40.09" height="59.2" fill="#fbe3e1"/>
<rect x="1004" y="4495.5" width="40.09" height="59.2" fill="#c2bcd7"/>
<rect x="1043.79" y="4495.5" width="40.09" height="59.2" fill="#f6d5d2"/>
<rect x="1083.59" y="4495.5" width="40.09" height="59.2" fill="#b2accc"/>
<rect x="1123.38" y="4495.5" width="40.09" height="59.2" fill="#8579ae"/>
<rect x="1163.17" y="4495.5" width="40.09" height="59.2" fill="#9c92bd"/>
<rect x="1202.97" y="4495.5" width="40.09" height="59.2" fill="#d1cde1"/>
<rect x="1242.77" y="4495.5" width="40.09" height="59.2" fill="#aba3c7"/>
<rect x="1282.56" y="4495.5" width="40.09" height="59.2" fill="#7d71a9"/>
<rect x="1322.36" y="4495.5" width="40.09" height="59.2" fill="#8c82b3"/>
<rect x="168.3" y="4554.4" width="40.09" height="59.2" fill="#aba3c7"/>
<rect x="208.1" y="4554.4" width="40.09" height="59.2" fill="#aba3c7"/>
<rect x="247.89" y="4554.4" width="40.09" height="59.2" fill="#e9b3b0"/>
<rect x="287.69" y="4554.4" width="40.09" height="59.2" fill="#f6d5d2"/>
<rect x="327.48" y="4554.4" width="40.09" height="59.2" fill="#aba3c7"/>
<rect x="367.28" y="4554.4" width="40.09" height="59.2" fill="#aba3c7"/>
<rect x="407.07" y="4554.4" width="40.09" height="59.2" fill="#f0eef5"/>
<rect x="446.87" y="4554.4" width="40.09" height="59.2" fill="#a39bc2"/>
<rect x="486.66" y="4554.4" width="40.09" height="59.2" fill="#bab4d2"/>
<rect x="526.46" y="4554.4" width="40.09" height="59.2" fill="#a39bc2"/>
<rect x="566.25" y="4554.4" width="40.09" height="59.2" fill="#7d71a9"/>
<rect x="606.05" y="4554.4" width="40.09" height="59.2" fill="#e9b3b0"/>
<rect x="645.84" y="4554.4" width="40.09" height="59.2" fill="#7d71a9"/>
<rect x="685.63" y="4554.4" width="40.09" height="59.2" fill="#7569a4"/>
<rect x="725.43" y="4554.4" width="40.09" height="59.2" fill="#7569a4"/>
<rect x="765.23" y="4554.4" width="40.09" height="59.2" fill="#948ab8"/>
<rect x="805.02" y="4554.4" width="40.09" height="59.2" fill="#7569a4"/>
<rect x="844.82" y="4554.4" width="40.09" height="59.2" fill="#7d71a9"/>
<rect x="884.61" y="4554.4" width="40.09" height="59.2" fill="#8579ae"/>
<rect x="924.4" y="4554.4" width="40.09" height="59.2" fill="#fefdfe"/>
<rect x="964.2" y="4554.4" width="40.09" height="59.2" fill="#f4f3f8"/>
<rect x="1004" y="4554.4" width="40.09" height="59.2" fill="#b2accc"/>
<rect x="1043.79" y="4554.4" width="40.09" height="59.2" fill="#7d71a9"/>
<rect x="1083.59" y="4554.4" width="40.09" height="59.2" fill="#f6d5d2"/>
<rect x="1123.38" y="4554.4" width="40.09" height="59.2" fill="#7d71a9"/>
<rect x="1163.17" y="4554.4" width="40.09" height="59.2" fill="#b2accc"/>
<rect x="1202.97" y="4554.4" width="40.09" height="59.2" fill="#948ab8"/>
<rect x="1242.77" y="4554.4" width="40.09" height="59.2" fill="#eae8f1"/>
<rect x="1282.56" y="4554.4" width="40.09" height="59.2" fill="#c2bcd7"/>
<rect x="1322.36" y="4554.4" width="40.09" height="59.2" fill="#8579ae"/>
<rect x="168.3" y="4613.3" width="40.09" height="59.2" fill="#d1cde1"/>
<rect x="208.1" y="4613.3" width="40.09" height="59.2" fill="#7d71a9"/>
<rect x="247.89" y="4613.3" width="40.09" height="59.2" fill="#b2accc"/>
<rect x="287.69" y="4613.3" width="40.09" height="59.2" fill="#bab4d2"/>
<rect x="327.48" y="4613.3" width="40.09" height="59.2" fill="#bab4d2"/>
<rect x="367.28" y="4613.3" width="40.09" height="59.2" fill="#be5959"/>
<rect x="407.07" y="4613.3" width="40.09" height="59.2" fill="#6e609f"/>
<rect x="446.87" y="4613.3" width="40.09" height="59.2" fill="#948ab8"/>
<rect x="486.66" y="4613.3" width="40.09" height="59.2" fill="#fefdfe"/>
<rect x="526.46" y="4613.3" width="40.09" height="59.2" fill="#a39bc2"/>
<rect x="566.25" y="4613.3" width="40.09" height="59.2" fill="#c9c5dc"/>
<rect x="606.05" y="4613.3" width="40.09" height="59.2" fill="#d1cde1"/>
<rect x="645.84" y="4613.3" width="40.09" height="59.2" fill="#fefdfe"/>
<rect x="685.63" y="4613.3" width="40.09" height="59.2" fill="#aba3c7"/>
<rect x="725.43" y="4613.3" width="40.09" height="59.2" fill="#6e609f"/>
<rect x="765.23" y="4613.3" width="40.09" height="59.2" fill="#e7e4ef"/>
<rect x="805.02" y="4613.3" width="40.09" height="59.2" fill="#e0deeb"/>
<rect x="844.82" y="4613.3" width="40.09" height="59.2" fill="#e3e1ed"/>
<rect x="884.61" y="4613.3" width="40.09" height="59.2" fill="#9c92bd"/>
<rect x="924.4" y="4613.3" width="40.09" height="59.2" fill="#8579ae"/>
<rect x="964.2" y="4613.3" width="40.09" height="59.2" fill="#f0eef5"/>
<rect x="1004" y="4613.3" width="40.09" height="59.2" fill="#6e609f"/>
<rect x="1043.79" y="4613.3" width="40.09" height="59.2" fill="#7d71a9"/>
<rect x="1083.59" y="4613.3" width="40.09" height="59.2" fill="#948ab8"/>
<rect x="1123.38" y="4613.3" width="40.09" height="59.2" fill="#8579ae"/>
<rect x="1163.17" y="4613.3" width="40.09" height="59.2" fill="#7569a4"/>
<rect x="1202.97" y="4613.3" width="40.09" height="59.2" fill="#a39bc2"/>
<rect x="1242.77" y="4613.3" width="40.09" height="59.2" fill="#7569a4"/>
<rect x="1282.56" y="4613.3" width="40.09" height="59.2" fill="#a39bc2"/>
<rect x="1322.36" y="4613.3" width="40.09" height="59.2" fill="#b2accc"/>
<rect x="168.3" y="4672.2" width="40.09" height="59.2" fill="#f6d5d2"/>
<rect x="208.1" y="4672.2" width="40.09" height="59.2" fill="#f7f7fa"/>
<rect x="247.89" y="4672.2" width="40.09" height="59.2" fill="#e9b3b0"/>
<rect x="287.69" y="4672.2" width="40.09" height="59.2" fill="#fdf0ed"/>
<rect x="327.48" y="4672.2" width="40.09" height="59.2" fill="#e0deeb"/>
<rect x="367.28" y="4672.2" width="40.09" height="59.2" fill="#f9f8fb"/>
<rect x="407.07" y="4672.2" width="40.09" height="59.2" fill="#c2bcd7"/>
<rect x="446.87" y="4672.2" width="40.09" height="59.2" fill="#e9b3b0"/>
<rect x="486.66" y="4672.2" width="40.09" height="59.2" fill="#8c82b3"/>
<rect x="526.46" y="4672.2" width="40.09" height="59.2" fill="#a39bc2"/>
<rect x="566.25" y="4672.2" width="40.09" height="59.2" fill="#c9c5dc"/>
<rect x="606.05" y="4672.2" width="40.09" height="59.2" fill="#8c82b3"/>
<rect x="645.84" y="4672.2" width="40.09" height="59.2" fill="#7d71a9"/>
<rect x="685.63" y="4672.2" width="40.09" height="59.2" fill="#bab4d2"/>
<rect x="725.43" y="4672.2" width="40.09" height="59.2" fill="#9c92bd"/>
<rect x="765.23" y="4672.2" width="40.09" height="59.2" fill="#8579ae"/>
<rect x="805.02" y="4672.2" width="40.09" height="59.2" fill="#948ab8"/>
<rect x="844.82" y="4672.2" width="40.09" height="59.2" fill="#c9c5dc"/>
<rect x="884.61" y="4672.2" width="40.09" height="59.2" fill="#6e609f"/>
<rect x="924.4" y="4672.2" width="40.09" height="59.2" fill="#7d71a9"/>
<rect x="964.2" y="4672.2" width="40.09" height="59.2" fill="#c9c5dc"/>
<rect x="1004" y="4672.2" width="40.09" height="59.2" fill="#b2accc"/>
<rect x="1043.79" y="4672.2" width="40.09" height="59.2" fill="#8579ae"/>
<rect x="1083.59" y="4672.2" width="40.09" height="59.2" fill="#b2accc"/>
<rect x="1123.38" y="4672.2" width="40.09" height="59.2" fill="#66589a"/>
<rect x="1163.17" y="4672.2" width="40.09" height="59.2" fill="#66589a"/>
<rect x="1202.97" y="4672.2" width="40.09" height="59.2" fill="#6e609f"/>
<rect x="1242.77" y="4672.2" width="40.09" height="59.2" fill="#7d71a9"/>
<rect x="1282.56" y="4672.2" width="40.09" height="59.2" fill="#b2accc"/>
<rect x="1322.36" y="4672.2" width="40.09" height="59.2" fill="#aba3c7"/>
<rect x="168.3" y="4731.1" width="40.09" height="59.2" fill="#f0c5c2"/>
<rect x="208.1" y="4731.1" width="40.09" height="59.2" fill="#b2accc"/>
<rect x="247.89" y="4731.1" width="40.09" height="59.2" fill="#e0deeb"/>
<rect x="287.69" y="4731.1" width="40.09" height="59.2" fill="#fdf0ed"/>
<rect x="327.48" y="4731.1" width="40.09" height="59.2" fill="#f0c5c2"/>
<rect x="367.28" y="4731.1" width="40.09" height="59.2" fill="#7d71a9"/>
<rect x="407.07" y="4731.1" width="40.09" height="59.2" fill="#7d71a9"/>
<rect x="446.87" y="4731.1" width="40.09" height="59.2" fill="#e9b3b0"/>
<rect x="486.66" y="4731.1" width="40.09" height="59.2" fill="#8c82b3"/>
<rect x="526.46" y="4731.1" width="40.09" height="59.2" fill="#9c92bd"/>
<rect x="566.25" y="4731.1" width="40.09" height="59.2" fill="#f0eef5"/>
<rect x="606.05" y="4731.1" width="40.09" height="59.2" fill="#7569a4"/>
<rect x="645.84" y="4731.1" width="40.09" height="59.2" fill="#948ab8"/>
<rect x="685.63" y="4731.1" width="40.09" height="59.2" fill="#948ab8"/>
<rect x="725.43" y="4731.1" width="40.09" height="59.2" fill="#7d71a9"/>
<rect x="765.23" y="4731.1" width="40.09" height="59.2" fill="#b2accc"/>
<rect x="805.02" y="4731.1" width="40.09" height="59.2" fill="#9c92bd"/>
<rect x="844.82" y="4731.1" width="40.09" height="59.2" fill="#b2accc"/>
<rect x="884.61" y="4731.1" width="40.09" height="59.2" fill="#a39bc2"/>
<rect x="924.4" y="4731.1" width="40.09" height="59.2" fill="#e9b3b0"/>
<rect x="964.2" y="4731.1" width="40.09" height="59.2" fill="#66589a"/>
<rect x="1004" y="4731.1" width="40.09" height="59.2" fill="#a39bc2"/>
<rect x="1043.79" y="4731.1" width="40.09" height="59.2" fill="#7d71a9"/>
<rect x="1083.59" y="4731.1" width="40.09" height="59.2" fill="#e8e6f0"/>
<rect x="1123.38" y="4731.1" width="40.09" height="59.2" fill="#7d71a9"/>
<rect x="1163.17" y="4731.1" width="40.09" height="59.2" fill="#9c92bd"/>
<rect x="1202.97" y="4731.1" width="40.09" height="59.2" fill="#a39bc2"/>
<rect x="1242.77" y="4731.1" width="40.09" height="59.2" fill="#9c92bd"/>
<rect x="1282.56" y="4731.1" width="40.09" height="59.2" fill="#948ab8"/>
<rect x="1322.36" y="4731.1" width="40.09" height="59.2" fill="#9c92bd"/>
<rect x="168.3" y="4790" width="40.09" height="59.2" fill="#e0deeb"/>
<rect x="208.1" y="4790" width="40.09" height="59.2" fill="#aba3c7"/>
<rect x="247.89" y="4790" width="40.09" height="59.2" fill="#7d71a9"/>
<rect x="287.69" y="4790" width="40.09" height="59.2" fill="#c2bcd7"/>
<rect x="327.48" y="4790" width="40.09" height="59.2" fill="#948ab8"/>
<rect x="367.28" y="4790" width="40.09" height="59.2" fill="#a39bc2"/>
<rect x="407.07" y="4790" width="40.09" height="59.2" fill="#9c92bd"/>
<rect x="446.87" y="4790" width="40.09" height="59.2" fill="#d98b8a"/>
<rect x="486.66" y="4790" width="40.09" height="59.2" fill="#a39bc2"/>
<rect x="526.46" y="4790" width="40.09" height="59.2" fill="#9c92bd"/>
<rect x="566.25" y="4790" width="40.09" height="59.2" fill="#fbe3e1"/>
<rect x="606.05" y="4790" width="40.09" height="59.2" fill="#948ab8"/>
<rect x="645.84" y="4790" width="40.09" height="59.2" fill="#c9c5dc"/>
<rect x="685.63" y="4790" width="40.09" height="59.2" fill="#d1cde1"/>
<rect x="725.43" y="4790" width="40.09" height="59.2" fill="#b2accc"/>
<rect x="765.23" y="4790" width="40.09" height="59.2" fill="#f7f7fa"/>
<rect x="805.02" y="4790" width="40.09" height="59.2" fill="#c9c5dc"/>
<rect x="844.82" y="4790" width="40.09" height="59.2" fill="#d38282"/>
<rect x="884.61" y="4790" width="40.09" height="59.2" fill="#8579ae"/>
<rect x="924.4" y="4790" width="40.09" height="59.2" fill="#fbe3e1"/>
<rect x="964.2" y="4790" width="40.09" height="59.2" fill="#8579ae"/>
<rect x="1004" y="4790" width="40.09" height="59.2" fill="#8579ae"/>
<rect x="1043.79" y="4790" width="40.09" height="59.2" fill="#7569a4"/>
<rect x="1083.59" y="4790" width="40.09" height="59.2" fill="#948ab8"/>
<rect x="1123.38" y="4790" width="40.09" height="59.2" fill="#8579ae"/>
<rect x="1163.17" y="4790" width="40.09" height="59.2" fill="#9c92bd"/>
<rect x="1202.97" y="4790" width="40.09" height="59.2" fill="#8c82b3"/>
<rect x="1242.77" y="4790" width="40.09" height="59.2" fill="#8c82b3"/>
<rect x="1282.56" y="4790" width="40.09" height="59.2" fill="#7569a4"/>
<rect x="1322.36" y="4790" width="40.09" height="59.2" fill="#7d71a9"/>
<path d="M168.3 3847.6V4848.9M168.3 3812.2V3839.3M208.1 3847.6V4848.9M208.1 3812.2V3839.3M247.89 3847.6V4848.9M247.89 3812.2V3839.3M287.69 3847.6V4848.9M287.69 3812.2V3839.3M327.48 3847.6V4848.9M327.48 3812.2V3839.3M367.28 3847.6V4848.9M367.28 3812.2V3839.3M407.07 3847.6V4848.9M407.07 3812.2V3839.3M446.87 3847.6V4848.9M446.87 3812.2V3839.3M486.66 3847.6V4848.9M486.66 3812.2V3839.3M526.46 3847.6V4848.9M526.46 3812.2V3839.3M566.25 3847.6V4848.9M566.25 3812.2V3839.3M606.05 3847.6V4848.9M606.05 3812.2V3839.3M645.84 3847.6V4848.9M645.84 3812.2V3839.3M685.63 3847.6V4848.9M685.63 3812.2V3839.3M725.43 3847.6V4848.9M725.43 3812.2V3839.3M765.23 3847.6V4848.9M765.23 3812.2V3839.3M805.02 3847.6V4848.9M805.02 3812.2V3839.3M844.82 3847.6V4848.9M844.82 3812.2V3839.3M884.61 3847.6V4848.9M884.61 3812.2V3839.3M924.4 3847.6V4848.9M924.4 3812.2V3839.3M964.2 3847.6V4848.9M964.2 3812.2V3839.3M1004 3847.6V4848.9M1004 3812.2V3839.3M1043.79 3847.6V4848.9M1043.79 3812.2V3839.3M1083.59 3847.6V4848.9M1083.59 3812.2V3839.3M1123.38 3847.6V4848.9M1123.38 3812.2V3839.3M1163.17 3847.6V4848.9M1163.17 3812.2V3839.3M1202.97 3847.6V4848.9M1202.97 3812.2V3839.3M1242.77 3847.6V4848.9M1242.77 3812.2V3839.3M1282.56 3847.6V4848.9M1282.56 3812.2V3839.3M1322.36 3847.6V4848.9M1322.36 3812.2V3839.3M1362.15 3847.6V4848.9M1362.15 3812.2V3839.3M167.2 3847.6H1363.25M167.2 3906.5H1363.25M167.2 3965.4H1363.25M167.2 4024.3H1363.25M167.2 4083.2H1363.25M167.2 4142.1H1363.25M167.2 4201H1363.25M167.2 4259.9H1363.25M167.2 4318.8H1363.25M167.2 4377.7H1363.25M167.2 4436.6H1363.25M167.2 4495.5H1363.25M167.2 4554.4H1363.25M167.2 4613.3H1363.25M167.2 4672.2H1363.25M167.2 4731.1H1363.25M167.2 4790H1363.25M167.2 4848.9H1363.25M167.2 3812.2H1363.25M167.2 3839.3H1363.25" stroke="#1a1211" stroke-width="2.25" fill="none" stroke-linejoin="miter"/>
<path d="M167.8 4466.05H143.75V4524.95H167.8M167.8 4407.15H140.5V4495.5H143.75M167.8 4348.25H137.8V4451.32H140.5M167.8 4289.35H136.25V4399.79H137.8M167.8 4230.45H118V4344.57H136.25M167.8 4112.65H128.25V4171.55H167.8M128.25 4142.1H115V4287.51H118M167.8 4053.75H108.75V4214.8H115M167.8 3935.95H130V3994.85H167.8M130 3965.4H104.5V4134.28H108.75M167.8 3877.05H100.75V4049.84H104.5M167.8 4760.55H120.5V4819.45H167.8M167.8 4701.65H110.75V4790H120.5M167.8 4642.75H97V4745.82H110.75M167.8 4583.85H94.5V4694.29H97M100.75 3963.44H25V4639.07H94.5" stroke="#1a1211" stroke-width="1.6" fill="none" stroke-linejoin="miter"/>
<text x="1380" y="3842" font-size="43.5" textLength="133" lengthAdjust="spacingAndGlyphs" stroke="#1b1919" class="h">Group</text>
<text x="1379" y="3894" font-size="43.5" textLength="121" lengthAdjust="spacingAndGlyphs" stroke="#1b1919" class="h">HDCA</text>
<text x="1380" y="3957.5" font-size="43.5" textLength="118.5" lengthAdjust="spacingAndGlyphs" stroke="#1b1919" class="h">CDCA</text>
<text x="1379" y="4012.5" font-size="43.5" textLength="91" lengthAdjust="spacingAndGlyphs" stroke="#1b1919" class="h">DCA</text>
<text x="1379" y="4072.5" font-size="43.5" textLength="145" lengthAdjust="spacingAndGlyphs" stroke="#1b1919" class="h">TCDCA</text>
<text x="1379" y="4131.5" font-size="43.5" textLength="107.5" lengthAdjust="spacingAndGlyphs" stroke="#1b1919" class="h">TLCA</text>
<text x="1379" y="4190" font-size="43.5" textLength="117" lengthAdjust="spacingAndGlyphs" stroke="#1b1919" class="h">TDCA</text>
<text x="1379" y="4249" font-size="43.5" textLength="81.5" lengthAdjust="spacingAndGlyphs" stroke="#1b1919" class="h">LCA</text>
<text x="1379" y="4309" font-size="43.5" textLength="147.5" lengthAdjust="spacingAndGlyphs" stroke="#1b1919" class="h">TUDCA</text>
<text x="1379" y="4368.5" font-size="43.5" textLength="149" lengthAdjust="spacingAndGlyphs" stroke="#1b1919" class="h">THDCA</text>
<text x="1379" y="4429" font-size="43.5" textLength="84" lengthAdjust="spacingAndGlyphs" stroke="#1b1919" class="h">TCA</text>
<text x="1379" y="4487.5" font-size="43.5" textLength="191" lengthAdjust="spacingAndGlyphs" stroke="#1b1919" class="h">T-α-MCA</text>
<text x="1379" y="4543.5" font-size="43.5" textLength="190.5" lengthAdjust="spacingAndGlyphs" stroke="#1b1919" class="h">T-β-MCA</text>
<text x="1379" y="4603.5" font-size="43.5" textLength="122" lengthAdjust="spacingAndGlyphs" stroke="#1b1919" class="h">UDCA</text>
<text x="1380" y="4659" font-size="43.5" textLength="121" lengthAdjust="spacingAndGlyphs" stroke="#1b1919" class="h">GDCA</text>
<text x="1380" y="4718.5" font-size="43.5" textLength="145" lengthAdjust="spacingAndGlyphs" stroke="#1b1919" class="h">α-MCA</text>
<text x="1379" y="4781.5" font-size="43.5" textLength="144" lengthAdjust="spacingAndGlyphs" stroke="#1b1919" class="h">β-MCA</text>
<text x="1380" y="4837.5" font-size="43.5" textLength="58.5" lengthAdjust="spacingAndGlyphs" stroke="#1b1919" class="h">CA</text>
<text x="177.8" y="4855" font-size="45" textLength="51" lengthAdjust="spacingAndGlyphs" transform="rotate(90 177.8 4855)" stroke="#1b1919" class="h">C1</text>
<text x="217.59" y="4855" font-size="45" textLength="51" lengthAdjust="spacingAndGlyphs" transform="rotate(90 217.59 4855)" stroke="#1b1919" class="h">C2</text>
<text x="257.39" y="4855" font-size="45" textLength="51" lengthAdjust="spacingAndGlyphs" transform="rotate(90 257.39 4855)" stroke="#1b1919" class="h">C3</text>
<text x="297.18" y="4855" font-size="45" textLength="51" lengthAdjust="spacingAndGlyphs" transform="rotate(90 297.18 4855)" stroke="#1b1919" class="h">C4</text>
<text x="336.98" y="4855" font-size="45" textLength="51" lengthAdjust="spacingAndGlyphs" transform="rotate(90 336.98 4855)" stroke="#1b1919" class="h">C5</text>
<text x="376.77" y="4855" font-size="45" textLength="51" lengthAdjust="spacingAndGlyphs" transform="rotate(90 376.77 4855)" stroke="#1b1919" class="h">C6</text>
<text x="416.57" y="4853.5" font-size="45" textLength="52.5" lengthAdjust="spacingAndGlyphs" transform="rotate(90 416.57 4853.5)" stroke="#1b1919" class="h">H1</text>
<text x="456.36" y="4853.5" font-size="45" textLength="52.5" lengthAdjust="spacingAndGlyphs" transform="rotate(90 456.36 4853.5)" stroke="#1b1919" class="h">H2</text>
<text x="496.16" y="4853.5" font-size="45" textLength="52.5" lengthAdjust="spacingAndGlyphs" transform="rotate(90 496.16 4853.5)" stroke="#1b1919" class="h">H3</text>
<text x="535.95" y="4853.5" font-size="45" textLength="52.5" lengthAdjust="spacingAndGlyphs" transform="rotate(90 535.95 4853.5)" stroke="#1b1919" class="h">H4</text>
<text x="575.75" y="4853.5" font-size="45" textLength="52.5" lengthAdjust="spacingAndGlyphs" transform="rotate(90 575.75 4853.5)" stroke="#1b1919" class="h">H5</text>
<text x="615.54" y="4853.5" font-size="45" textLength="52.5" lengthAdjust="spacingAndGlyphs" transform="rotate(90 615.54 4853.5)" stroke="#1b1919" class="h">H6</text>
<text x="655.34" y="4853.5" font-size="45" textLength="52.5" lengthAdjust="spacingAndGlyphs" transform="rotate(90 655.34 4853.5)" stroke="#1b1919" class="h">D1</text>
<text x="695.13" y="4853.5" font-size="45" textLength="52.5" lengthAdjust="spacingAndGlyphs" transform="rotate(90 695.13 4853.5)" stroke="#1b1919" class="h">D2</text>
<text x="734.93" y="4853.5" font-size="45" textLength="52.5" lengthAdjust="spacingAndGlyphs" transform="rotate(90 734.93 4853.5)" stroke="#1b1919" class="h">D3</text>
<text x="774.72" y="4853.5" font-size="45" textLength="52.5" lengthAdjust="spacingAndGlyphs" transform="rotate(90 774.72 4853.5)" stroke="#1b1919" class="h">D4</text>
<text x="814.52" y="4853.5" font-size="45" textLength="52.5" lengthAdjust="spacingAndGlyphs" transform="rotate(90 814.52 4853.5)" stroke="#1b1919" class="h">D5</text>
<text x="854.31" y="4853.5" font-size="45" textLength="52.5" lengthAdjust="spacingAndGlyphs" transform="rotate(90 854.31 4853.5)" stroke="#1b1919" class="h">D6</text>
<text x="894.11" y="4853.5" font-size="45" textLength="78.5" lengthAdjust="spacingAndGlyphs" transform="rotate(90 894.11 4853.5)" stroke="#1b1919" class="h">DL1</text>
<text x="933.9" y="4853.5" font-size="45" textLength="78.5" lengthAdjust="spacingAndGlyphs" transform="rotate(90 933.9 4853.5)" stroke="#1b1919" class="h">DL2</text>
<text x="973.7" y="4853.5" font-size="45" textLength="78.5" lengthAdjust="spacingAndGlyphs" transform="rotate(90 973.7 4853.5)" stroke="#1b1919" class="h">DL3</text>
<text x="1013.49" y="4853.5" font-size="45" textLength="78.5" lengthAdjust="spacingAndGlyphs" transform="rotate(90 1013.49 4853.5)" stroke="#1b1919" class="h">DL4</text>
<text x="1053.29" y="4853.5" font-size="45" textLength="78.5" lengthAdjust="spacingAndGlyphs" transform="rotate(90 1053.29 4853.5)" stroke="#1b1919" class="h">DL5</text>
<text x="1093.08" y="4853.5" font-size="45" textLength="78.5" lengthAdjust="spacingAndGlyphs" transform="rotate(90 1093.08 4853.5)" stroke="#1b1919" class="h">DL6</text>
<text x="1132.88" y="4853.5" font-size="45" textLength="88.5" lengthAdjust="spacingAndGlyphs" transform="rotate(90 1132.88 4853.5)" stroke="#1b1919" class="h">DH1</text>
<text x="1172.67" y="4853.5" font-size="45" textLength="88.5" lengthAdjust="spacingAndGlyphs" transform="rotate(90 1172.67 4853.5)" stroke="#1b1919" class="h">DH2</text>
<text x="1212.47" y="4853.5" font-size="45" textLength="88.5" lengthAdjust="spacingAndGlyphs" transform="rotate(90 1212.47 4853.5)" stroke="#1b1919" class="h">DH3</text>
<text x="1252.26" y="4853.5" font-size="45" textLength="88.5" lengthAdjust="spacingAndGlyphs" transform="rotate(90 1252.26 4853.5)" stroke="#1b1919" class="h">DH4</text>
<text x="1292.06" y="4853.5" font-size="45" textLength="88.5" lengthAdjust="spacingAndGlyphs" transform="rotate(90 1292.06 4853.5)" stroke="#1b1919" class="h">DH5</text>
<text x="1331.85" y="4853.5" font-size="45" textLength="88.5" lengthAdjust="spacingAndGlyphs" transform="rotate(90 1331.85 4853.5)" stroke="#1b1919" class="h">DH6</text>
<defs><linearGradient id="cb" x1="0" y1="0" x2="0" y2="1"><stop offset="0" stop-color="#b5413e"/><stop offset="0.25" stop-color="#d98b89"/><stop offset="0.5" stop-color="#ffffff"/><stop offset="0.75" stop-color="#b2abcc"/><stop offset="1" stop-color="#67599b"/></linearGradient></defs>
<rect x="1569.5" y="3810" width="27.5" height="410" fill="url(#cb)"/>
<text x="1607.3" y="3895.5" font-size="42.5" textLength="27" lengthAdjust="spacingAndGlyphs" stroke="#1b1919" class="h">3</text>
<text x="1607.3" y="3971" font-size="42.5" textLength="27" lengthAdjust="spacingAndGlyphs" stroke="#1b1919" class="h">2</text>
<text x="1607.3" y="4046" font-size="42.5" textLength="27" lengthAdjust="spacingAndGlyphs" stroke="#1b1919" class="h">1</text>
<text x="1607.3" y="4120.5" font-size="42.5" textLength="27" lengthAdjust="spacingAndGlyphs" stroke="#1b1919" class="h">0</text>
<text x="1607.3" y="4196" font-size="42.5" textLength="43" lengthAdjust="spacingAndGlyphs" stroke="#1b1919" class="h">-1</text>
<text x="1653" y="3830.5" font-size="42.5" textLength="135" lengthAdjust="spacingAndGlyphs" stroke="#1b1919" class="h">Group</text>
<rect x="1648" y="3839" width="40" height="39.5" fill="#2e1b19" stroke="#1a1211" stroke-width="1.8"/>
<rect x="1648" y="3878.5" width="40" height="39" fill="#e7392d" stroke="#1a1211" stroke-width="1.8"/>
<rect x="1648" y="3917.5" width="40" height="40" fill="#3e3981" stroke="#1a1211" stroke-width="1.8"/>
<rect x="1648" y="3957.5" width="40" height="40" fill="#467b72" stroke="#1a1211" stroke-width="1.8"/>
<rect x="1648" y="3997.5" width="40" height="39" fill="#a85896" stroke="#1a1211" stroke-width="1.8"/>
<text x="1697.5" y="3876.3" font-size="42" textLength="161" lengthAdjust="spacingAndGlyphs" stroke="#1b1919" class="h">Control</text>
<text x="1697.5" y="3916.3" font-size="42" textLength="107.5" lengthAdjust="spacingAndGlyphs" stroke="#1b1919" class="h">H-FA</text>
<text x="1697.5" y="3955.3" font-size="42" textLength="116" lengthAdjust="spacingAndGlyphs" stroke="#1b1919" class="h">DEHP</text>
<text x="1697.5" y="3995.3" font-size="42" textLength="240" lengthAdjust="spacingAndGlyphs" stroke="#1b1919" class="h">DEHP+L-FA</text>
<text x="1697.5" y="4034.3" font-size="42" textLength="250" lengthAdjust="spacingAndGlyphs" stroke="#1b1919" class="h">DEHP+H-FA</text>
</svg>
</body></html>
